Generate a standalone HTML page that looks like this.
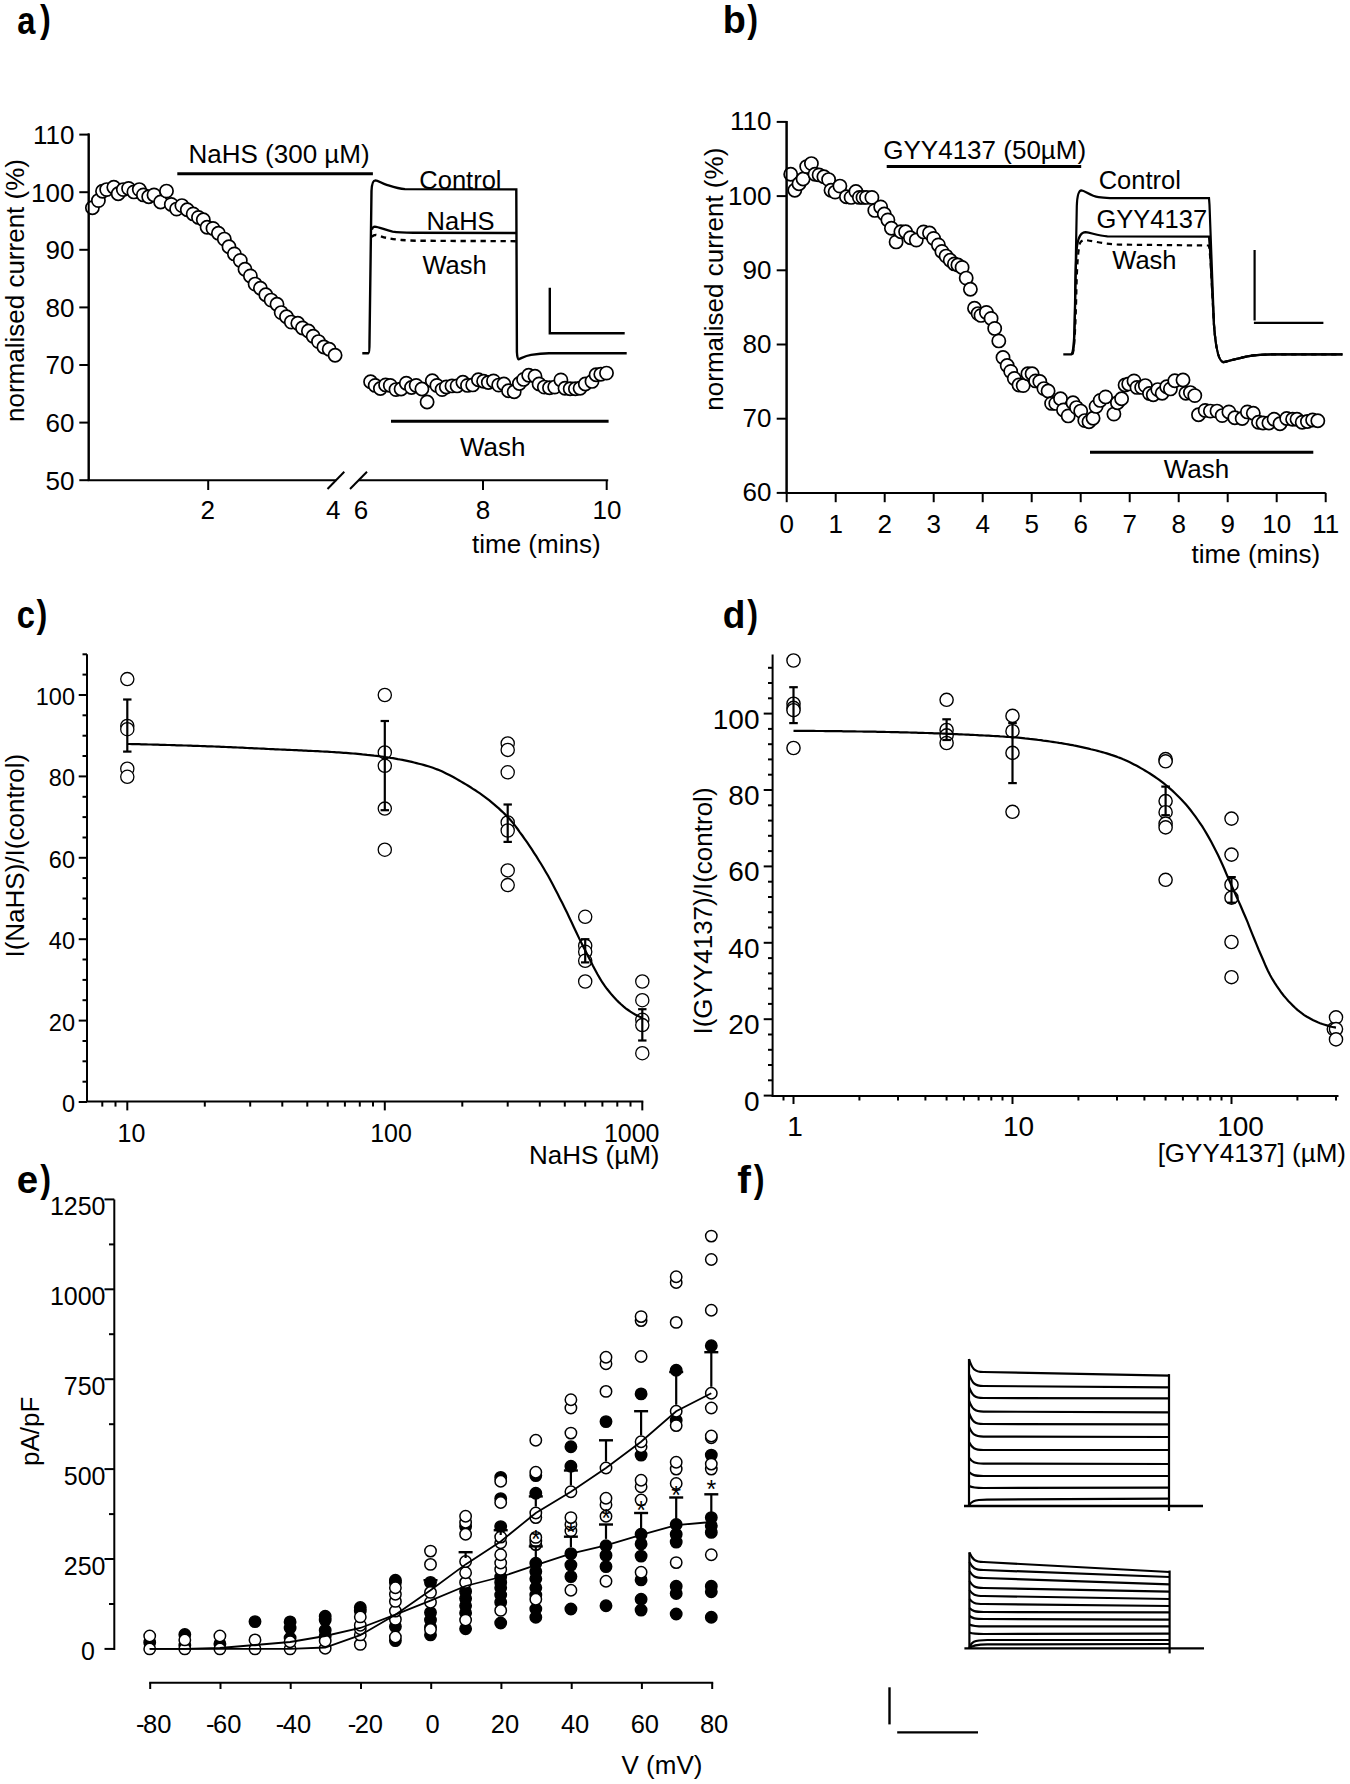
<!DOCTYPE html>
<html><head><meta charset="utf-8"><style>
html,body{margin:0;padding:0;background:#fff;}
svg{display:block;}
text{font-family:"Liberation Sans",sans-serif;fill:#000;stroke:none;}
</style></head><body>
<svg width="1350" height="1784" viewBox="0 0 1350 1784">
<rect width="1350" height="1784" fill="#fff"/>
<g stroke="#000" fill="none" stroke-linecap="butt">
<text transform="translate(17.15,33.80) scale(0.85,1)" font-size="38.5" font-weight="bold">a</text>
<text transform="translate(39.92,32.30) scale(0.83,1)" font-size="39" font-weight="bold">)</text>
<text transform="translate(722.71,33.40) scale(0.97,1)" font-size="39" font-weight="bold">b</text>
<text transform="translate(747.32,32.20) scale(0.83,1)" font-size="39" font-weight="bold">)</text>
<text transform="translate(16.81,628.10) scale(0.85,1)" font-size="38.5" font-weight="bold">c</text>
<text transform="translate(36.62,626.90) scale(0.83,1)" font-size="39" font-weight="bold">)</text>
<text transform="translate(722.84,627.80) scale(0.95,1)" font-size="39" font-weight="bold">d</text>
<text transform="translate(747.32,627.10) scale(0.83,1)" font-size="39" font-weight="bold">)</text>
<text transform="translate(16.68,1193.30) scale(1.0,1)" font-size="38.5" font-weight="bold">e</text>
<text transform="translate(40.32,1191.50) scale(0.83,1)" font-size="39" font-weight="bold">)</text>
<text transform="translate(737.35,1192.70) scale(1.05,1)" font-size="39" font-weight="bold">f</text>
<text transform="translate(753.72,1191.50) scale(0.83,1)" font-size="39" font-weight="bold">)</text>
<line x1="88.7" y1="133.6" x2="88.7" y2="481.0" stroke-width="2" />
<line x1="79.3" y1="480.2" x2="88.7" y2="480.2" stroke-width="2" />
<text x="74.5" y="489.6" font-size="26" text-anchor="end" >50</text>
<line x1="79.3" y1="422.6" x2="88.7" y2="422.6" stroke-width="2" />
<text x="74.5" y="432.0" font-size="26" text-anchor="end" >60</text>
<line x1="79.3" y1="365.0" x2="88.7" y2="365.0" stroke-width="2" />
<text x="74.5" y="374.4" font-size="26" text-anchor="end" >70</text>
<line x1="79.3" y1="307.4" x2="88.7" y2="307.4" stroke-width="2" />
<text x="74.5" y="316.8" font-size="26" text-anchor="end" >80</text>
<line x1="79.3" y1="249.8" x2="88.7" y2="249.8" stroke-width="2" />
<text x="74.5" y="259.2" font-size="26" text-anchor="end" >90</text>
<line x1="79.3" y1="192.2" x2="88.7" y2="192.2" stroke-width="2" />
<text x="74.5" y="201.6" font-size="26" text-anchor="end" >100</text>
<line x1="79.3" y1="134.6" x2="88.7" y2="134.6" stroke-width="2" />
<text x="74.5" y="144.0" font-size="26" text-anchor="end" >110</text>
<line x1="87.7" y1="480.2" x2="336.2" y2="480.2" stroke-width="2" />
<line x1="358.8" y1="480.2" x2="608.2" y2="480.2" stroke-width="2" />
<line x1="327.5" y1="489.0" x2="344.3" y2="471.7" stroke-width="2" />
<line x1="350.0" y1="489.0" x2="367.0" y2="471.7" stroke-width="2" />
<line x1="208.2" y1="480.2" x2="208.2" y2="490.0" stroke-width="2" />
<line x1="483.0" y1="480.2" x2="483.0" y2="490.0" stroke-width="2" />
<line x1="606.7" y1="480.2" x2="606.7" y2="490.0" stroke-width="2" />
<text x="207.7" y="518.6" font-size="26" text-anchor="middle" >2</text>
<text x="333.2" y="518.6" font-size="26" text-anchor="middle" >4</text>
<text x="361.0" y="518.6" font-size="26" text-anchor="middle" >6</text>
<text x="483.0" y="518.6" font-size="26" text-anchor="middle" >8</text>
<text x="607.0" y="518.6" font-size="26" text-anchor="middle" >10</text>
<text x="472.0" y="553.0" font-size="26" text-anchor="start" >time (mins)</text>
<text transform="translate(23.5,290.5) rotate(-90)" font-size="26" text-anchor="middle">normalised current (%)</text>
<line x1="177.3" y1="173.7" x2="372.9" y2="173.7" stroke-width="3" />
<text x="188.5" y="163.4" font-size="26" text-anchor="start" >NaHS (300 µM)</text>
<line x1="391.0" y1="421.2" x2="608.6" y2="421.2" stroke-width="3" />
<text x="460.0" y="455.5" font-size="26" text-anchor="start" >Wash</text>
<path d="M362.3,353.2 L368.5,353.2 C369.3,353 369.5,349 369.5,342 L371.5,191 C371.8,184 373,180.4 375.4,180.4 C378,180.5 382,183.5 386.7,184.8 C392,186.5 398,188.7 405,189.1 L516.3,189.4 L516.9,352 C517.2,357 517.6,359.3 518.5,359.3 C521,358.5 525,355.8 531.1,354.9 C537,354 543,353.4 549,353.3 L626.7,353.2" stroke-width="2.4" fill="none" />
<path d="M371.8,229.5 C372.5,227.5 373.5,226.6 374.8,226.6 C379,227 385,230 392.6,231.6 C398,232.5 405,232.7 413.3,232.7 L516.3,233" stroke-width="2.4" fill="none" />
<path d="M371.6,236.8 C373,235.5 374.5,234.9 376,234.9 C379,235.5 383,237.2 386.7,237.9 C391,238.8 396,239.6 401.5,240 C408,240.5 415,240.8 425.2,240.8 L516.3,241.2" stroke-width="2.4" fill="none" stroke-dasharray="5.3,4.7"/>
<text x="419.3" y="188.8" font-size="25.5" text-anchor="start" >Control</text>
<text x="426.6" y="229.6" font-size="25.5" text-anchor="start" >NaHS</text>
<text x="422.4" y="274.4" font-size="25.5" text-anchor="start" >Wash</text>
<path d="M549.8,287.7 L549.8,333.3 L624.7,333.3" stroke-width="2.4" fill="none" />
<circle cx="92.4" cy="207.7" r="6.6" stroke-width="1.7" fill="#fff"/>
<circle cx="98.4" cy="200.6" r="6.6" stroke-width="1.7" fill="#fff"/>
<circle cx="102.5" cy="191.3" r="6.6" stroke-width="1.7" fill="#fff"/>
<circle cx="106.7" cy="189.6" r="6.6" stroke-width="1.7" fill="#fff"/>
<circle cx="113.8" cy="187.2" r="6.6" stroke-width="1.7" fill="#fff"/>
<circle cx="118.2" cy="193.7" r="6.6" stroke-width="1.7" fill="#fff"/>
<circle cx="123.3" cy="189.6" r="6.6" stroke-width="1.7" fill="#fff"/>
<circle cx="128.6" cy="188.4" r="6.6" stroke-width="1.7" fill="#fff"/>
<circle cx="133.9" cy="191.9" r="6.6" stroke-width="1.7" fill="#fff"/>
<circle cx="139.3" cy="189.6" r="6.6" stroke-width="1.7" fill="#fff"/>
<circle cx="143.4" cy="194.9" r="6.6" stroke-width="1.7" fill="#fff"/>
<circle cx="148.7" cy="196.7" r="6.6" stroke-width="1.7" fill="#fff"/>
<circle cx="154.0" cy="194.9" r="6.6" stroke-width="1.7" fill="#fff"/>
<circle cx="160.6" cy="202.0" r="6.6" stroke-width="1.7" fill="#fff"/>
<circle cx="166.5" cy="191.1" r="6.6" stroke-width="1.7" fill="#fff"/>
<circle cx="171.3" cy="204.4" r="6.6" stroke-width="1.7" fill="#fff"/>
<circle cx="176.6" cy="209.1" r="6.6" stroke-width="1.7" fill="#fff"/>
<circle cx="181.9" cy="205.6" r="6.6" stroke-width="1.7" fill="#fff"/>
<circle cx="187.3" cy="209.7" r="6.6" stroke-width="1.7" fill="#fff"/>
<circle cx="193.2" cy="213.9" r="6.6" stroke-width="1.7" fill="#fff"/>
<circle cx="198.5" cy="217.4" r="6.6" stroke-width="1.7" fill="#fff"/>
<circle cx="203.3" cy="219.8" r="6.6" stroke-width="1.7" fill="#fff"/>
<circle cx="207.1" cy="227.3" r="6.6" stroke-width="1.7" fill="#fff"/>
<circle cx="213.0" cy="228.4" r="6.6" stroke-width="1.7" fill="#fff"/>
<circle cx="218.4" cy="233.2" r="6.6" stroke-width="1.7" fill="#fff"/>
<circle cx="224.3" cy="239.1" r="6.6" stroke-width="1.7" fill="#fff"/>
<circle cx="229.0" cy="246.8" r="6.6" stroke-width="1.7" fill="#fff"/>
<circle cx="234.4" cy="253.9" r="6.6" stroke-width="1.7" fill="#fff"/>
<circle cx="240.3" cy="260.4" r="6.6" stroke-width="1.7" fill="#fff"/>
<circle cx="245.0" cy="269.3" r="6.6" stroke-width="1.7" fill="#fff"/>
<circle cx="250.4" cy="275.9" r="6.6" stroke-width="1.7" fill="#fff"/>
<circle cx="255.1" cy="284.1" r="6.6" stroke-width="1.7" fill="#fff"/>
<circle cx="260.4" cy="288.3" r="6.6" stroke-width="1.7" fill="#fff"/>
<circle cx="265.8" cy="294.8" r="6.6" stroke-width="1.7" fill="#fff"/>
<circle cx="271.1" cy="300.1" r="6.6" stroke-width="1.7" fill="#fff"/>
<circle cx="277.0" cy="304.3" r="6.6" stroke-width="1.7" fill="#fff"/>
<circle cx="281.2" cy="312.6" r="6.6" stroke-width="1.7" fill="#fff"/>
<circle cx="286.5" cy="316.7" r="6.6" stroke-width="1.7" fill="#fff"/>
<circle cx="291.3" cy="322.1" r="6.6" stroke-width="1.7" fill="#fff"/>
<circle cx="297.8" cy="323.3" r="6.6" stroke-width="1.7" fill="#fff"/>
<circle cx="302.5" cy="328.0" r="6.6" stroke-width="1.7" fill="#fff"/>
<circle cx="308.4" cy="331.0" r="6.6" stroke-width="1.7" fill="#fff"/>
<circle cx="313.2" cy="336.3" r="6.6" stroke-width="1.7" fill="#fff"/>
<circle cx="318.5" cy="341.6" r="6.6" stroke-width="1.7" fill="#fff"/>
<circle cx="323.9" cy="347.0" r="6.6" stroke-width="1.7" fill="#fff"/>
<circle cx="329.2" cy="349.3" r="6.6" stroke-width="1.7" fill="#fff"/>
<circle cx="335.1" cy="355.3" r="6.6" stroke-width="1.7" fill="#fff"/>
<circle cx="370.6" cy="381.8" r="6.6" stroke-width="1.7" fill="#fff"/>
<circle cx="375.2" cy="385.4" r="6.6" stroke-width="1.7" fill="#fff"/>
<circle cx="380.4" cy="388.5" r="6.6" stroke-width="1.7" fill="#fff"/>
<circle cx="385.6" cy="384.9" r="6.6" stroke-width="1.7" fill="#fff"/>
<circle cx="390.3" cy="385.4" r="6.6" stroke-width="1.7" fill="#fff"/>
<circle cx="396.0" cy="389.6" r="6.6" stroke-width="1.7" fill="#fff"/>
<circle cx="401.1" cy="389.0" r="6.6" stroke-width="1.7" fill="#fff"/>
<circle cx="406.3" cy="383.3" r="6.6" stroke-width="1.7" fill="#fff"/>
<circle cx="411.5" cy="387.5" r="6.6" stroke-width="1.7" fill="#fff"/>
<circle cx="416.2" cy="385.4" r="6.6" stroke-width="1.7" fill="#fff"/>
<circle cx="421.9" cy="389.0" r="6.6" stroke-width="1.7" fill="#fff"/>
<circle cx="427.1" cy="402.0" r="6.6" stroke-width="1.7" fill="#fff"/>
<circle cx="432.3" cy="380.7" r="6.6" stroke-width="1.7" fill="#fff"/>
<circle cx="436.9" cy="385.4" r="6.6" stroke-width="1.7" fill="#fff"/>
<circle cx="442.1" cy="389.6" r="6.6" stroke-width="1.7" fill="#fff"/>
<circle cx="446.3" cy="387.0" r="6.6" stroke-width="1.7" fill="#fff"/>
<circle cx="452.0" cy="385.9" r="6.6" stroke-width="1.7" fill="#fff"/>
<circle cx="457.1" cy="385.9" r="6.6" stroke-width="1.7" fill="#fff"/>
<circle cx="462.9" cy="382.3" r="6.6" stroke-width="1.7" fill="#fff"/>
<circle cx="467.5" cy="385.4" r="6.6" stroke-width="1.7" fill="#fff"/>
<circle cx="472.7" cy="384.9" r="6.6" stroke-width="1.7" fill="#fff"/>
<circle cx="478.4" cy="379.7" r="6.6" stroke-width="1.7" fill="#fff"/>
<circle cx="483.6" cy="381.3" r="6.6" stroke-width="1.7" fill="#fff"/>
<circle cx="488.3" cy="382.5" r="6.6" stroke-width="1.7" fill="#fff"/>
<circle cx="493.5" cy="380.9" r="6.6" stroke-width="1.7" fill="#fff"/>
<circle cx="498.7" cy="385.1" r="6.6" stroke-width="1.7" fill="#fff"/>
<circle cx="503.9" cy="384.0" r="6.6" stroke-width="1.7" fill="#fff"/>
<circle cx="508.5" cy="390.8" r="6.6" stroke-width="1.7" fill="#fff"/>
<circle cx="514.2" cy="391.8" r="6.6" stroke-width="1.7" fill="#fff"/>
<circle cx="519.4" cy="383.5" r="6.6" stroke-width="1.7" fill="#fff"/>
<circle cx="523.6" cy="379.4" r="6.6" stroke-width="1.7" fill="#fff"/>
<circle cx="528.7" cy="375.2" r="6.6" stroke-width="1.7" fill="#fff"/>
<circle cx="535.0" cy="376.3" r="6.6" stroke-width="1.7" fill="#fff"/>
<circle cx="539.1" cy="384.0" r="6.6" stroke-width="1.7" fill="#fff"/>
<circle cx="544.3" cy="387.1" r="6.6" stroke-width="1.7" fill="#fff"/>
<circle cx="549.5" cy="387.7" r="6.6" stroke-width="1.7" fill="#fff"/>
<circle cx="554.7" cy="387.1" r="6.6" stroke-width="1.7" fill="#fff"/>
<circle cx="560.9" cy="379.9" r="6.6" stroke-width="1.7" fill="#fff"/>
<circle cx="565.0" cy="388.2" r="6.6" stroke-width="1.7" fill="#fff"/>
<circle cx="570.2" cy="388.7" r="6.6" stroke-width="1.7" fill="#fff"/>
<circle cx="575.4" cy="388.7" r="6.6" stroke-width="1.7" fill="#fff"/>
<circle cx="580.1" cy="388.2" r="6.6" stroke-width="1.7" fill="#fff"/>
<circle cx="585.3" cy="384.0" r="6.6" stroke-width="1.7" fill="#fff"/>
<circle cx="592.0" cy="381.4" r="6.6" stroke-width="1.7" fill="#fff"/>
<circle cx="596.1" cy="374.7" r="6.6" stroke-width="1.7" fill="#fff"/>
<circle cx="600.8" cy="374.2" r="6.6" stroke-width="1.7" fill="#fff"/>
<circle cx="606.5" cy="373.1" r="6.6" stroke-width="1.7" fill="#fff"/>
<line x1="88.7" y1="133.6" x2="88.7" y2="481.0" stroke-width="2" />
<line x1="786.6" y1="120.9" x2="786.6" y2="493.9" stroke-width="2" />
<line x1="776.7" y1="492.9" x2="786.6" y2="492.9" stroke-width="2" />
<text x="771.5" y="501.4" font-size="26" text-anchor="end" >60</text>
<line x1="776.7" y1="418.7" x2="786.6" y2="418.7" stroke-width="2" />
<text x="771.5" y="427.2" font-size="26" text-anchor="end" >70</text>
<line x1="776.7" y1="344.5" x2="786.6" y2="344.5" stroke-width="2" />
<text x="771.5" y="353.0" font-size="26" text-anchor="end" >80</text>
<line x1="776.7" y1="270.3" x2="786.6" y2="270.3" stroke-width="2" />
<text x="771.5" y="278.8" font-size="26" text-anchor="end" >90</text>
<line x1="776.7" y1="196.1" x2="786.6" y2="196.1" stroke-width="2" />
<text x="771.5" y="204.6" font-size="26" text-anchor="end" >100</text>
<line x1="776.7" y1="121.9" x2="786.6" y2="121.9" stroke-width="2" />
<text x="771.5" y="130.4" font-size="26" text-anchor="end" >110</text>
<line x1="785.6" y1="492.9" x2="1325.7" y2="492.9" stroke-width="2" />
<line x1="786.7" y1="492.9" x2="786.7" y2="502.2" stroke-width="2" />
<text x="786.7" y="532.7" font-size="26" text-anchor="middle" >0</text>
<line x1="835.7" y1="492.9" x2="835.7" y2="502.2" stroke-width="2" />
<text x="835.7" y="532.7" font-size="26" text-anchor="middle" >1</text>
<line x1="884.7" y1="492.9" x2="884.7" y2="502.2" stroke-width="2" />
<text x="884.7" y="532.7" font-size="26" text-anchor="middle" >2</text>
<line x1="933.7" y1="492.9" x2="933.7" y2="502.2" stroke-width="2" />
<text x="933.7" y="532.7" font-size="26" text-anchor="middle" >3</text>
<line x1="982.7" y1="492.9" x2="982.7" y2="502.2" stroke-width="2" />
<text x="982.7" y="532.7" font-size="26" text-anchor="middle" >4</text>
<line x1="1031.7" y1="492.9" x2="1031.7" y2="502.2" stroke-width="2" />
<text x="1031.7" y="532.7" font-size="26" text-anchor="middle" >5</text>
<line x1="1080.7" y1="492.9" x2="1080.7" y2="502.2" stroke-width="2" />
<text x="1080.7" y="532.7" font-size="26" text-anchor="middle" >6</text>
<line x1="1129.7" y1="492.9" x2="1129.7" y2="502.2" stroke-width="2" />
<text x="1129.7" y="532.7" font-size="26" text-anchor="middle" >7</text>
<line x1="1178.7" y1="492.9" x2="1178.7" y2="502.2" stroke-width="2" />
<text x="1178.7" y="532.7" font-size="26" text-anchor="middle" >8</text>
<line x1="1227.7" y1="492.9" x2="1227.7" y2="502.2" stroke-width="2" />
<text x="1227.7" y="532.7" font-size="26" text-anchor="middle" >9</text>
<line x1="1276.7" y1="492.9" x2="1276.7" y2="502.2" stroke-width="2" />
<text x="1276.7" y="532.7" font-size="26" text-anchor="middle" >10</text>
<line x1="1325.7" y1="492.9" x2="1325.7" y2="502.2" stroke-width="2" />
<text x="1325.7" y="532.7" font-size="26" text-anchor="middle" >11</text>
<text x="1191.6" y="563.3" font-size="26" text-anchor="start" >time (mins)</text>
<text transform="translate(722.7,279.2) rotate(-90)" font-size="26" text-anchor="middle">normalised current (%)</text>
<line x1="886.7" y1="166.6" x2="1081.2" y2="166.6" stroke-width="3" />
<text x="883.3" y="159.0" font-size="26" text-anchor="start" >GYY4137 (50µM)</text>
<line x1="1090.0" y1="452.2" x2="1313.3" y2="452.2" stroke-width="3" />
<text x="1163.8" y="478.4" font-size="26" text-anchor="start" >Wash</text>
<path d="M1063.3,354.3 L1071.4,354.3 C1073.5,354 1074.2,346 1074.5,330 L1076.8,206 C1077.2,195 1078.5,190.5 1081.3,190.4 C1085,190.5 1090,195.8 1098.5,197.2 C1102,197.8 1106,198 1110,198.1 L1209,198.2 L1209.5,205 L1214,325 C1215.5,345 1218,362 1223.6,362.2 C1232,360.5 1244,355.6 1260,354.8 C1266,354.5 1272,354.4 1280,354.3 L1342.4,354.3" stroke-width="2.2" fill="none" />
<path d="M1071.4,354.3 C1074,352 1074.8,330 1075.2,300 C1075.6,270 1076.4,250 1077.2,245.2 C1078.5,236 1081,232.2 1085.5,232.1 C1092,233 1098,235.8 1107.4,236.3 L1209,236.6 L1210,250 L1214,325 C1215.5,345 1218,362 1223.6,362.2 C1232,360.5 1244,355.6 1260,354.8 C1266,354.5 1272,354.4 1280,354.3 L1342.4,354.3" stroke-width="2.2" fill="none" />
<path d="M1072.5,354.3 C1074.5,350 1075.8,320 1076.4,290 C1077,265 1078,250 1080.1,242.8 C1081.5,240.6 1083.5,239.9 1084.9,239.9 C1095,241.3 1105,244.2 1119,244.6 L1209,245.5 L1210.5,260 L1214,325 C1215.5,345 1218,362 1223.6,362.2 C1232,360.5 1244,355.6 1260,354.8 C1266,354.5 1272,354.4 1280,354.3 L1342.4,354.3" stroke-width="2.2" fill="none" stroke-dasharray="5.3,4.7"/>
<text x="1098.7" y="189.3" font-size="25.5" text-anchor="start" >Control</text>
<text x="1096.5" y="227.6" font-size="25.5" text-anchor="start" >GYY4137</text>
<text x="1112.3" y="269.1" font-size="25.5" text-anchor="start" >Wash</text>
<path d="M1254.6,250 L1254.6,320.5 M1253.9,322.9 L1323.4,322.9" stroke-width="2.2" fill="none" />
<circle cx="790.7" cy="174.3" r="6.6" stroke-width="1.7" fill="#fff"/>
<circle cx="794.8" cy="190.3" r="6.6" stroke-width="1.7" fill="#fff"/>
<circle cx="799.0" cy="183.8" r="6.6" stroke-width="1.7" fill="#fff"/>
<circle cx="803.1" cy="179.0" r="6.6" stroke-width="1.7" fill="#fff"/>
<circle cx="806.7" cy="166.6" r="6.6" stroke-width="1.7" fill="#fff"/>
<circle cx="811.4" cy="163.6" r="6.6" stroke-width="1.7" fill="#fff"/>
<circle cx="815.0" cy="174.3" r="6.6" stroke-width="1.7" fill="#fff"/>
<circle cx="819.1" cy="174.9" r="6.6" stroke-width="1.7" fill="#fff"/>
<circle cx="823.9" cy="176.7" r="6.6" stroke-width="1.7" fill="#fff"/>
<circle cx="828.6" cy="179.6" r="6.6" stroke-width="1.7" fill="#fff"/>
<circle cx="831.0" cy="190.3" r="6.6" stroke-width="1.7" fill="#fff"/>
<circle cx="835.1" cy="192.1" r="6.6" stroke-width="1.7" fill="#fff"/>
<circle cx="839.9" cy="186.1" r="6.6" stroke-width="1.7" fill="#fff"/>
<circle cx="846.4" cy="196.8" r="6.6" stroke-width="1.7" fill="#fff"/>
<circle cx="851.1" cy="197.4" r="6.6" stroke-width="1.7" fill="#fff"/>
<circle cx="855.9" cy="191.5" r="6.6" stroke-width="1.7" fill="#fff"/>
<circle cx="859.4" cy="197.4" r="6.6" stroke-width="1.7" fill="#fff"/>
<circle cx="863.0" cy="197.4" r="6.6" stroke-width="1.7" fill="#fff"/>
<circle cx="866.5" cy="197.4" r="6.6" stroke-width="1.7" fill="#fff"/>
<circle cx="871.9" cy="197.4" r="6.6" stroke-width="1.7" fill="#fff"/>
<circle cx="874.8" cy="210.4" r="6.6" stroke-width="1.7" fill="#fff"/>
<circle cx="880.7" cy="206.9" r="6.6" stroke-width="1.7" fill="#fff"/>
<circle cx="884.3" cy="214.0" r="6.6" stroke-width="1.7" fill="#fff"/>
<circle cx="887.9" cy="219.9" r="6.6" stroke-width="1.7" fill="#fff"/>
<circle cx="891.4" cy="228.2" r="6.6" stroke-width="1.7" fill="#fff"/>
<circle cx="896.1" cy="241.9" r="6.6" stroke-width="1.7" fill="#fff"/>
<circle cx="900.9" cy="231.8" r="6.6" stroke-width="1.7" fill="#fff"/>
<circle cx="905.6" cy="231.8" r="6.6" stroke-width="1.7" fill="#fff"/>
<circle cx="910.4" cy="237.7" r="6.6" stroke-width="1.7" fill="#fff"/>
<circle cx="916.3" cy="240.1" r="6.6" stroke-width="1.7" fill="#fff"/>
<circle cx="923.6" cy="231.9" r="6.6" stroke-width="1.7" fill="#fff"/>
<circle cx="929.5" cy="233.0" r="6.6" stroke-width="1.7" fill="#fff"/>
<circle cx="933.6" cy="238.4" r="6.6" stroke-width="1.7" fill="#fff"/>
<circle cx="938.4" cy="244.9" r="6.6" stroke-width="1.7" fill="#fff"/>
<circle cx="941.9" cy="251.4" r="6.6" stroke-width="1.7" fill="#fff"/>
<circle cx="946.1" cy="256.1" r="6.6" stroke-width="1.7" fill="#fff"/>
<circle cx="950.2" cy="260.3" r="6.6" stroke-width="1.7" fill="#fff"/>
<circle cx="954.4" cy="263.9" r="6.6" stroke-width="1.7" fill="#fff"/>
<circle cx="957.9" cy="265.0" r="6.6" stroke-width="1.7" fill="#fff"/>
<circle cx="962.1" cy="267.4" r="6.6" stroke-width="1.7" fill="#fff"/>
<circle cx="966.2" cy="278.1" r="6.6" stroke-width="1.7" fill="#fff"/>
<circle cx="970.4" cy="289.3" r="6.6" stroke-width="1.7" fill="#fff"/>
<circle cx="974.5" cy="308.3" r="6.6" stroke-width="1.7" fill="#fff"/>
<circle cx="978.1" cy="313.6" r="6.6" stroke-width="1.7" fill="#fff"/>
<circle cx="981.0" cy="315.4" r="6.6" stroke-width="1.7" fill="#fff"/>
<circle cx="986.4" cy="312.4" r="6.6" stroke-width="1.7" fill="#fff"/>
<circle cx="991.1" cy="318.4" r="6.6" stroke-width="1.7" fill="#fff"/>
<circle cx="994.7" cy="328.4" r="6.6" stroke-width="1.7" fill="#fff"/>
<circle cx="998.8" cy="340.9" r="6.6" stroke-width="1.7" fill="#fff"/>
<circle cx="1003.0" cy="357.5" r="6.6" stroke-width="1.7" fill="#fff"/>
<circle cx="1007.2" cy="365.5" r="6.6" stroke-width="1.7" fill="#fff"/>
<circle cx="1010.7" cy="371.4" r="6.6" stroke-width="1.7" fill="#fff"/>
<circle cx="1014.3" cy="378.5" r="6.6" stroke-width="1.7" fill="#fff"/>
<circle cx="1019.0" cy="385.0" r="6.6" stroke-width="1.7" fill="#fff"/>
<circle cx="1023.2" cy="385.6" r="6.6" stroke-width="1.7" fill="#fff"/>
<circle cx="1027.9" cy="373.8" r="6.6" stroke-width="1.7" fill="#fff"/>
<circle cx="1032.1" cy="373.8" r="6.6" stroke-width="1.7" fill="#fff"/>
<circle cx="1035.6" cy="380.9" r="6.6" stroke-width="1.7" fill="#fff"/>
<circle cx="1039.8" cy="381.5" r="6.6" stroke-width="1.7" fill="#fff"/>
<circle cx="1043.9" cy="388.6" r="6.6" stroke-width="1.7" fill="#fff"/>
<circle cx="1048.1" cy="391.0" r="6.6" stroke-width="1.7" fill="#fff"/>
<circle cx="1051.6" cy="403.4" r="6.6" stroke-width="1.7" fill="#fff"/>
<circle cx="1055.8" cy="403.4" r="6.6" stroke-width="1.7" fill="#fff"/>
<circle cx="1060.5" cy="398.7" r="6.6" stroke-width="1.7" fill="#fff"/>
<circle cx="1063.5" cy="409.9" r="6.6" stroke-width="1.7" fill="#fff"/>
<circle cx="1068.2" cy="415.9" r="6.6" stroke-width="1.7" fill="#fff"/>
<circle cx="1073.0" cy="402.8" r="6.6" stroke-width="1.7" fill="#fff"/>
<circle cx="1076.5" cy="407.6" r="6.6" stroke-width="1.7" fill="#fff"/>
<circle cx="1080.7" cy="411.1" r="6.6" stroke-width="1.7" fill="#fff"/>
<circle cx="1084.8" cy="420.6" r="6.6" stroke-width="1.7" fill="#fff"/>
<circle cx="1089.0" cy="421.8" r="6.6" stroke-width="1.7" fill="#fff"/>
<circle cx="1093.1" cy="418.2" r="6.6" stroke-width="1.7" fill="#fff"/>
<circle cx="1096.1" cy="406.4" r="6.6" stroke-width="1.7" fill="#fff"/>
<circle cx="1100.2" cy="400.4" r="6.6" stroke-width="1.7" fill="#fff"/>
<circle cx="1105.6" cy="396.9" r="6.6" stroke-width="1.7" fill="#fff"/>
<circle cx="1113.9" cy="414.1" r="6.6" stroke-width="1.7" fill="#fff"/>
<circle cx="1117.4" cy="402.8" r="6.6" stroke-width="1.7" fill="#fff"/>
<circle cx="1121.6" cy="398.7" r="6.6" stroke-width="1.7" fill="#fff"/>
<circle cx="1125.1" cy="385.0" r="6.6" stroke-width="1.7" fill="#fff"/>
<circle cx="1128.7" cy="383.9" r="6.6" stroke-width="1.7" fill="#fff"/>
<circle cx="1134.0" cy="380.9" r="6.6" stroke-width="1.7" fill="#fff"/>
<circle cx="1137.0" cy="387.4" r="6.6" stroke-width="1.7" fill="#fff"/>
<circle cx="1141.7" cy="387.4" r="6.6" stroke-width="1.7" fill="#fff"/>
<circle cx="1145.3" cy="385.6" r="6.6" stroke-width="1.7" fill="#fff"/>
<circle cx="1149.5" cy="393.5" r="6.6" stroke-width="1.7" fill="#fff"/>
<circle cx="1153.3" cy="394.8" r="6.6" stroke-width="1.7" fill="#fff"/>
<circle cx="1157.8" cy="389.6" r="6.6" stroke-width="1.7" fill="#fff"/>
<circle cx="1162.2" cy="393.3" r="6.6" stroke-width="1.7" fill="#fff"/>
<circle cx="1166.7" cy="386.7" r="6.6" stroke-width="1.7" fill="#fff"/>
<circle cx="1170.4" cy="388.9" r="6.6" stroke-width="1.7" fill="#fff"/>
<circle cx="1174.8" cy="380.7" r="6.6" stroke-width="1.7" fill="#fff"/>
<circle cx="1183.0" cy="380.0" r="6.6" stroke-width="1.7" fill="#fff"/>
<circle cx="1185.9" cy="393.3" r="6.6" stroke-width="1.7" fill="#fff"/>
<circle cx="1190.4" cy="392.6" r="6.6" stroke-width="1.7" fill="#fff"/>
<circle cx="1194.8" cy="395.6" r="6.6" stroke-width="1.7" fill="#fff"/>
<circle cx="1198.5" cy="414.8" r="6.6" stroke-width="1.7" fill="#fff"/>
<circle cx="1205.2" cy="410.4" r="6.6" stroke-width="1.7" fill="#fff"/>
<circle cx="1210.4" cy="411.1" r="6.6" stroke-width="1.7" fill="#fff"/>
<circle cx="1217.0" cy="411.1" r="6.6" stroke-width="1.7" fill="#fff"/>
<circle cx="1222.2" cy="415.6" r="6.6" stroke-width="1.7" fill="#fff"/>
<circle cx="1228.9" cy="411.9" r="6.6" stroke-width="1.7" fill="#fff"/>
<circle cx="1234.8" cy="417.8" r="6.6" stroke-width="1.7" fill="#fff"/>
<circle cx="1242.2" cy="418.5" r="6.6" stroke-width="1.7" fill="#fff"/>
<circle cx="1247.4" cy="411.9" r="6.6" stroke-width="1.7" fill="#fff"/>
<circle cx="1253.3" cy="413.3" r="6.6" stroke-width="1.7" fill="#fff"/>
<circle cx="1258.5" cy="422.2" r="6.6" stroke-width="1.7" fill="#fff"/>
<circle cx="1263.0" cy="423.0" r="6.6" stroke-width="1.7" fill="#fff"/>
<circle cx="1268.9" cy="423.0" r="6.6" stroke-width="1.7" fill="#fff"/>
<circle cx="1274.1" cy="419.3" r="6.6" stroke-width="1.7" fill="#fff"/>
<circle cx="1280.0" cy="423.7" r="6.6" stroke-width="1.7" fill="#fff"/>
<circle cx="1286.7" cy="418.5" r="6.6" stroke-width="1.7" fill="#fff"/>
<circle cx="1292.6" cy="419.3" r="6.6" stroke-width="1.7" fill="#fff"/>
<circle cx="1297.0" cy="419.3" r="6.6" stroke-width="1.7" fill="#fff"/>
<circle cx="1302.2" cy="422.2" r="6.6" stroke-width="1.7" fill="#fff"/>
<circle cx="1307.4" cy="421.5" r="6.6" stroke-width="1.7" fill="#fff"/>
<circle cx="1312.6" cy="420.0" r="6.6" stroke-width="1.7" fill="#fff"/>
<circle cx="1317.8" cy="420.7" r="6.6" stroke-width="1.7" fill="#fff"/>
<line x1="786.6" y1="120.9" x2="786.6" y2="493.9" stroke-width="2" />
<line x1="87.0" y1="654.3" x2="87.0" y2="1102.0" stroke-width="2" />
<line x1="78.7" y1="1102.0" x2="87.0" y2="1102.0" stroke-width="2" />
<line x1="82.5" y1="1081.7" x2="87.0" y2="1081.7" stroke-width="2" />
<line x1="82.5" y1="1061.3" x2="87.0" y2="1061.3" stroke-width="2" />
<line x1="82.5" y1="1041.0" x2="87.0" y2="1041.0" stroke-width="2" />
<line x1="78.7" y1="1020.6" x2="87.0" y2="1020.6" stroke-width="2" />
<line x1="82.5" y1="1000.2" x2="87.0" y2="1000.2" stroke-width="2" />
<line x1="82.5" y1="979.9" x2="87.0" y2="979.9" stroke-width="2" />
<line x1="82.5" y1="959.5" x2="87.0" y2="959.5" stroke-width="2" />
<line x1="78.7" y1="939.2" x2="87.0" y2="939.2" stroke-width="2" />
<line x1="82.5" y1="918.9" x2="87.0" y2="918.9" stroke-width="2" />
<line x1="82.5" y1="898.5" x2="87.0" y2="898.5" stroke-width="2" />
<line x1="82.5" y1="878.1" x2="87.0" y2="878.1" stroke-width="2" />
<line x1="78.7" y1="857.8" x2="87.0" y2="857.8" stroke-width="2" />
<line x1="82.5" y1="837.5" x2="87.0" y2="837.5" stroke-width="2" />
<line x1="82.5" y1="817.1" x2="87.0" y2="817.1" stroke-width="2" />
<line x1="82.5" y1="796.8" x2="87.0" y2="796.8" stroke-width="2" />
<line x1="78.7" y1="776.4" x2="87.0" y2="776.4" stroke-width="2" />
<line x1="82.5" y1="756.0" x2="87.0" y2="756.0" stroke-width="2" />
<line x1="82.5" y1="735.7" x2="87.0" y2="735.7" stroke-width="2" />
<line x1="82.5" y1="715.3" x2="87.0" y2="715.3" stroke-width="2" />
<line x1="78.7" y1="695.0" x2="87.0" y2="695.0" stroke-width="2" />
<line x1="82.5" y1="674.6" x2="87.0" y2="674.6" stroke-width="2" />
<line x1="82.5" y1="654.3" x2="87.0" y2="654.3" stroke-width="2" />
<text x="75.0" y="1112.0" font-size="23.5" text-anchor="end" >0</text>
<text x="75.0" y="1030.6" font-size="23.5" text-anchor="end" >20</text>
<text x="75.0" y="949.2" font-size="23.5" text-anchor="end" >40</text>
<text x="75.0" y="867.8" font-size="23.5" text-anchor="end" >60</text>
<text x="75.0" y="786.4" font-size="23.5" text-anchor="end" >80</text>
<text x="75.0" y="705.0" font-size="23.5" text-anchor="end" >100</text>
<line x1="86.0" y1="1101.5" x2="643.3" y2="1101.5" stroke-width="2" />
<line x1="102.3" y1="1101.5" x2="102.3" y2="1106.6" stroke-width="2" />
<line x1="115.5" y1="1101.5" x2="115.5" y2="1106.6" stroke-width="2" />
<line x1="204.8" y1="1101.5" x2="204.8" y2="1106.6" stroke-width="2" />
<line x1="250.2" y1="1101.5" x2="250.2" y2="1106.6" stroke-width="2" />
<line x1="282.3" y1="1101.5" x2="282.3" y2="1106.6" stroke-width="2" />
<line x1="307.3" y1="1101.5" x2="307.3" y2="1106.6" stroke-width="2" />
<line x1="327.7" y1="1101.5" x2="327.7" y2="1106.6" stroke-width="2" />
<line x1="344.9" y1="1101.5" x2="344.9" y2="1106.6" stroke-width="2" />
<line x1="359.8" y1="1101.5" x2="359.8" y2="1106.6" stroke-width="2" />
<line x1="373.0" y1="1101.5" x2="373.0" y2="1106.6" stroke-width="2" />
<line x1="462.3" y1="1101.5" x2="462.3" y2="1106.6" stroke-width="2" />
<line x1="507.7" y1="1101.5" x2="507.7" y2="1106.6" stroke-width="2" />
<line x1="539.8" y1="1101.5" x2="539.8" y2="1106.6" stroke-width="2" />
<line x1="564.8" y1="1101.5" x2="564.8" y2="1106.6" stroke-width="2" />
<line x1="585.2" y1="1101.5" x2="585.2" y2="1106.6" stroke-width="2" />
<line x1="602.4" y1="1101.5" x2="602.4" y2="1106.6" stroke-width="2" />
<line x1="617.3" y1="1101.5" x2="617.3" y2="1106.6" stroke-width="2" />
<line x1="630.5" y1="1101.5" x2="630.5" y2="1106.6" stroke-width="2" />
<line x1="127.3" y1="1101.5" x2="127.3" y2="1110.4" stroke-width="2" />
<line x1="384.8" y1="1101.5" x2="384.8" y2="1110.4" stroke-width="2" />
<line x1="642.3" y1="1101.5" x2="642.3" y2="1110.4" stroke-width="2" />
<text x="131.4" y="1141.5" font-size="25" text-anchor="middle" >10</text>
<text x="391.0" y="1141.5" font-size="25" text-anchor="middle" >100</text>
<text x="659.5" y="1141.5" font-size="25" text-anchor="end" >1000</text>
<text x="659.5" y="1164.0" font-size="26" text-anchor="end" >NaHS (µM)</text>
<text transform="translate(24,855.7) rotate(-90)" font-size="26" text-anchor="middle">I(NaHS)/I(control)</text>
<circle cx="127.3" cy="679.1" r="6.6" stroke-width="1.3" fill="#fff"/>
<circle cx="127.3" cy="725.9" r="6.6" stroke-width="1.3" fill="#fff"/>
<circle cx="127.3" cy="729.2" r="6.6" stroke-width="1.3" fill="#fff"/>
<circle cx="127.3" cy="768.7" r="6.6" stroke-width="1.3" fill="#fff"/>
<circle cx="127.3" cy="776.8" r="6.6" stroke-width="1.3" fill="#fff"/>
<circle cx="384.8" cy="695.0" r="6.6" stroke-width="1.3" fill="#fff"/>
<circle cx="384.8" cy="752.4" r="6.6" stroke-width="1.3" fill="#fff"/>
<circle cx="384.8" cy="765.8" r="6.6" stroke-width="1.3" fill="#fff"/>
<circle cx="384.8" cy="808.6" r="6.6" stroke-width="1.3" fill="#fff"/>
<circle cx="384.8" cy="849.7" r="6.6" stroke-width="1.3" fill="#fff"/>
<circle cx="507.7" cy="743.4" r="6.6" stroke-width="1.3" fill="#fff"/>
<circle cx="507.7" cy="749.9" r="6.6" stroke-width="1.3" fill="#fff"/>
<circle cx="507.7" cy="772.3" r="6.6" stroke-width="1.3" fill="#fff"/>
<circle cx="507.7" cy="822.4" r="6.6" stroke-width="1.3" fill="#fff"/>
<circle cx="507.7" cy="830.5" r="6.6" stroke-width="1.3" fill="#fff"/>
<circle cx="507.7" cy="870.4" r="6.6" stroke-width="1.3" fill="#fff"/>
<circle cx="507.7" cy="885.1" r="6.6" stroke-width="1.3" fill="#fff"/>
<circle cx="585.2" cy="916.8" r="6.6" stroke-width="1.3" fill="#fff"/>
<circle cx="585.2" cy="945.7" r="6.6" stroke-width="1.3" fill="#fff"/>
<circle cx="585.2" cy="951.8" r="6.6" stroke-width="1.3" fill="#fff"/>
<circle cx="585.2" cy="960.8" r="6.6" stroke-width="1.3" fill="#fff"/>
<circle cx="585.2" cy="981.5" r="6.6" stroke-width="1.3" fill="#fff"/>
<circle cx="642.3" cy="981.5" r="6.6" stroke-width="1.3" fill="#fff"/>
<circle cx="642.3" cy="1000.2" r="6.6" stroke-width="1.3" fill="#fff"/>
<circle cx="642.3" cy="1019.8" r="6.6" stroke-width="1.3" fill="#fff"/>
<circle cx="642.3" cy="1025.1" r="6.6" stroke-width="1.3" fill="#fff"/>
<circle cx="642.3" cy="1053.2" r="6.6" stroke-width="1.3" fill="#fff"/>
<line x1="127.3" y1="751.6" x2="127.3" y2="699.5" stroke-width="2.2" />
<line x1="123.1" y1="751.6" x2="131.5" y2="751.6" stroke-width="2.2" />
<line x1="123.1" y1="699.5" x2="131.5" y2="699.5" stroke-width="2.2" />
<line x1="384.8" y1="810.2" x2="384.8" y2="721.0" stroke-width="2.2" />
<line x1="380.6" y1="810.2" x2="389.0" y2="810.2" stroke-width="2.2" />
<line x1="380.6" y1="721.0" x2="389.0" y2="721.0" stroke-width="2.2" />
<line x1="507.7" y1="841.9" x2="507.7" y2="804.5" stroke-width="2.2" />
<line x1="503.5" y1="841.9" x2="511.9" y2="841.9" stroke-width="2.2" />
<line x1="503.5" y1="804.5" x2="511.9" y2="804.5" stroke-width="2.2" />
<line x1="585.2" y1="962.4" x2="585.2" y2="939.2" stroke-width="2.2" />
<line x1="581.0" y1="962.4" x2="589.4" y2="962.4" stroke-width="2.2" />
<line x1="581.0" y1="939.2" x2="589.4" y2="939.2" stroke-width="2.2" />
<line x1="642.3" y1="1040.5" x2="642.3" y2="1009.2" stroke-width="2.2" />
<line x1="638.1" y1="1040.5" x2="646.5" y2="1040.5" stroke-width="2.2" />
<line x1="638.1" y1="1009.2" x2="646.5" y2="1009.2" stroke-width="2.2" />
<path d="M127.3,744.0 L129.7,744.0 L132.0,744.1 L134.4,744.1 L136.7,744.2 L139.1,744.2 L141.4,744.3 L143.8,744.4 L146.1,744.4 L148.5,744.5 L150.8,744.5 L153.2,744.6 L155.5,744.7 L157.9,744.7 L160.2,744.8 L162.6,744.8 L164.9,744.9 L167.3,745.0 L169.6,745.0 L172.0,745.1 L174.3,745.2 L176.7,745.3 L179.0,745.3 L181.4,745.4 L183.7,745.5 L186.1,745.5 L188.4,745.6 L190.8,745.7 L193.1,745.8 L195.5,745.8 L197.8,745.9 L200.2,746.0 L202.5,746.1 L204.9,746.2 L207.2,746.3 L209.6,746.3 L211.9,746.4 L214.3,746.5 L216.6,746.6 L219.0,746.7 L221.3,746.8 L223.7,746.9 L226.0,747.0 L228.4,747.1 L230.8,747.2 L233.1,747.3 L235.5,747.4 L237.8,747.5 L240.2,747.6 L242.5,747.7 L244.9,747.8 L247.2,748.0 L249.6,748.1 L251.9,748.2 L254.3,748.3 L256.6,748.4 L259.0,748.5 L261.3,748.6 L263.7,748.7 L266.0,748.8 L268.4,749.0 L270.7,749.1 L273.1,749.2 L275.4,749.3 L277.8,749.4 L280.1,749.5 L282.5,749.6 L284.8,749.7 L287.2,749.8 L289.5,749.9 L291.9,750.0 L294.2,750.1 L296.6,750.2 L298.9,750.3 L301.3,750.4 L303.6,750.6 L306.0,750.7 L308.3,750.8 L310.7,750.9 L313.0,751.0 L315.4,751.1 L317.7,751.2 L320.1,751.3 L322.4,751.5 L324.8,751.6 L327.1,751.7 L329.5,751.8 L331.8,752.0 L334.2,752.1 L336.6,752.3 L338.9,752.4 L341.3,752.6 L343.6,752.8 L346.0,752.9 L348.3,753.1 L350.7,753.3 L353.0,753.5 L355.4,753.7 L357.7,753.9 L360.1,754.1 L362.4,754.4 L364.8,754.6 L367.1,754.9 L369.5,755.1 L371.8,755.4 L374.2,755.7 L376.5,755.9 L378.9,756.2 L381.2,756.5 L383.6,756.8 L385.9,757.2 L388.3,757.5 L390.6,757.9 L393.0,758.2 L395.3,758.6 L397.7,759.1 L400.0,759.5 L402.4,759.9 L404.7,760.4 L407.1,760.9 L409.4,761.4 L411.8,761.9 L414.1,762.5 L416.5,763.1 L418.8,763.7 L421.2,764.3 L423.5,764.9 L425.9,765.6 L428.2,766.3 L430.6,767.0 L432.9,767.8 L435.3,768.7 L437.7,769.6 L440.0,770.6 L442.4,771.6 L444.7,772.7 L447.1,773.9 L449.4,775.0 L451.8,776.3 L454.1,777.5 L456.5,778.9 L458.8,780.2 L461.2,781.6 L463.5,783.0 L465.9,784.4 L468.2,785.8 L470.6,787.3 L472.9,788.8 L475.3,790.3 L477.6,791.8 L480.0,793.4 L482.3,795.1 L484.7,796.8 L487.0,798.6 L489.4,800.4 L491.7,802.3 L494.1,804.3 L496.4,806.3 L498.8,808.4 L501.1,810.6 L503.5,812.8 L505.8,815.1 L508.2,817.5 L510.5,820.1 L512.9,822.9 L515.2,825.9 L517.6,829.0 L519.9,832.3 L522.3,835.5 L524.6,838.8 L527.0,842.2 L529.3,845.6 L531.7,849.2 L534.0,852.8 L536.4,856.4 L538.7,860.2 L541.1,864.0 L543.5,868.0 L545.8,872.0 L548.2,876.0 L550.5,880.3 L552.9,884.7 L555.2,889.2 L557.6,893.8 L559.9,898.4 L562.3,903.0 L564.6,907.7 L567.0,912.6 L569.3,917.5 L571.7,922.5 L574.0,927.5 L576.4,932.5 L578.7,937.4 L581.1,942.3 L583.4,947.0 L585.8,951.6 L588.1,956.2 L590.5,960.8 L592.8,965.4 L595.2,969.9 L597.5,974.3 L599.9,978.4 L602.2,982.2 L604.6,985.7 L606.9,988.8 L609.3,991.8 L611.6,994.6 L614.0,997.2 L616.3,999.7 L618.7,1002.1 L621.0,1004.3 L623.4,1006.4 L625.7,1008.3 L628.1,1010.0 L630.4,1011.6 L632.8,1013.1 L635.1,1014.5 L637.5,1015.7 L639.8,1016.8 L642.2,1017.8" stroke-width="2.2" fill="none" />
<line x1="772.6" y1="654.5" x2="772.6" y2="1096.6" stroke-width="2" />
<line x1="763.7" y1="1095.6" x2="772.6" y2="1095.6" stroke-width="2" />
<line x1="768.0" y1="1080.3" x2="772.6" y2="1080.3" stroke-width="2" />
<line x1="768.0" y1="1065.0" x2="772.6" y2="1065.0" stroke-width="2" />
<line x1="768.0" y1="1049.8" x2="772.6" y2="1049.8" stroke-width="2" />
<line x1="768.0" y1="1034.5" x2="772.6" y2="1034.5" stroke-width="2" />
<line x1="763.7" y1="1019.2" x2="772.6" y2="1019.2" stroke-width="2" />
<line x1="768.0" y1="1003.9" x2="772.6" y2="1003.9" stroke-width="2" />
<line x1="768.0" y1="988.6" x2="772.6" y2="988.6" stroke-width="2" />
<line x1="768.0" y1="973.4" x2="772.6" y2="973.4" stroke-width="2" />
<line x1="768.0" y1="958.1" x2="772.6" y2="958.1" stroke-width="2" />
<line x1="763.7" y1="942.8" x2="772.6" y2="942.8" stroke-width="2" />
<line x1="768.0" y1="927.5" x2="772.6" y2="927.5" stroke-width="2" />
<line x1="768.0" y1="912.2" x2="772.6" y2="912.2" stroke-width="2" />
<line x1="768.0" y1="897.0" x2="772.6" y2="897.0" stroke-width="2" />
<line x1="768.0" y1="881.7" x2="772.6" y2="881.7" stroke-width="2" />
<line x1="763.7" y1="866.4" x2="772.6" y2="866.4" stroke-width="2" />
<line x1="768.0" y1="851.1" x2="772.6" y2="851.1" stroke-width="2" />
<line x1="768.0" y1="835.8" x2="772.6" y2="835.8" stroke-width="2" />
<line x1="768.0" y1="820.6" x2="772.6" y2="820.6" stroke-width="2" />
<line x1="768.0" y1="805.3" x2="772.6" y2="805.3" stroke-width="2" />
<line x1="763.7" y1="790.0" x2="772.6" y2="790.0" stroke-width="2" />
<line x1="768.0" y1="774.7" x2="772.6" y2="774.7" stroke-width="2" />
<line x1="768.0" y1="759.4" x2="772.6" y2="759.4" stroke-width="2" />
<line x1="768.0" y1="744.2" x2="772.6" y2="744.2" stroke-width="2" />
<line x1="768.0" y1="728.9" x2="772.6" y2="728.9" stroke-width="2" />
<line x1="763.7" y1="713.6" x2="772.6" y2="713.6" stroke-width="2" />
<line x1="768.0" y1="698.3" x2="772.6" y2="698.3" stroke-width="2" />
<line x1="768.0" y1="683.0" x2="772.6" y2="683.0" stroke-width="2" />
<line x1="768.0" y1="667.8" x2="772.6" y2="667.8" stroke-width="2" />
<text x="759.5" y="1110.6" font-size="28" text-anchor="end" >0</text>
<text x="759.5" y="1034.2" font-size="28" text-anchor="end" >20</text>
<text x="759.5" y="957.8" font-size="28" text-anchor="end" >40</text>
<text x="759.5" y="881.4" font-size="28" text-anchor="end" >60</text>
<text x="759.5" y="805.0" font-size="28" text-anchor="end" >80</text>
<text x="759.5" y="728.6" font-size="28" text-anchor="end" >100</text>
<line x1="771.6" y1="1096.0" x2="1338.5" y2="1096.0" stroke-width="2" />
<line x1="783.5" y1="1096.0" x2="783.5" y2="1100.5" stroke-width="2" />
<line x1="859.4" y1="1096.0" x2="859.4" y2="1100.5" stroke-width="2" />
<line x1="898.0" y1="1096.0" x2="898.0" y2="1100.5" stroke-width="2" />
<line x1="925.4" y1="1096.0" x2="925.4" y2="1100.5" stroke-width="2" />
<line x1="946.6" y1="1096.0" x2="946.6" y2="1100.5" stroke-width="2" />
<line x1="963.9" y1="1096.0" x2="963.9" y2="1100.5" stroke-width="2" />
<line x1="978.6" y1="1096.0" x2="978.6" y2="1100.5" stroke-width="2" />
<line x1="991.3" y1="1096.0" x2="991.3" y2="1100.5" stroke-width="2" />
<line x1="1002.5" y1="1096.0" x2="1002.5" y2="1100.5" stroke-width="2" />
<line x1="1078.4" y1="1096.0" x2="1078.4" y2="1100.5" stroke-width="2" />
<line x1="1117.0" y1="1096.0" x2="1117.0" y2="1100.5" stroke-width="2" />
<line x1="1144.4" y1="1096.0" x2="1144.4" y2="1100.5" stroke-width="2" />
<line x1="1165.6" y1="1096.0" x2="1165.6" y2="1100.5" stroke-width="2" />
<line x1="1182.9" y1="1096.0" x2="1182.9" y2="1100.5" stroke-width="2" />
<line x1="1197.6" y1="1096.0" x2="1197.6" y2="1100.5" stroke-width="2" />
<line x1="1210.3" y1="1096.0" x2="1210.3" y2="1100.5" stroke-width="2" />
<line x1="1221.5" y1="1096.0" x2="1221.5" y2="1100.5" stroke-width="2" />
<line x1="1297.4" y1="1096.0" x2="1297.4" y2="1100.5" stroke-width="2" />
<line x1="1336.0" y1="1096.0" x2="1336.0" y2="1100.5" stroke-width="2" />
<line x1="793.5" y1="1096.0" x2="793.5" y2="1104.0" stroke-width="2" />
<line x1="1012.5" y1="1096.0" x2="1012.5" y2="1104.0" stroke-width="2" />
<line x1="1231.5" y1="1096.0" x2="1231.5" y2="1104.0" stroke-width="2" />
<text x="795.0" y="1136.4" font-size="28" text-anchor="middle" >1</text>
<text x="1018.5" y="1136.4" font-size="28" text-anchor="middle" >10</text>
<text x="1240.5" y="1136.4" font-size="28" text-anchor="middle" >100</text>
<text x="1346.0" y="1162.2" font-size="26" text-anchor="end" >[GYY4137] (µM)</text>
<text transform="translate(712,911) rotate(-90)" font-size="26" text-anchor="middle">I(GYY4137)/I(control)</text>
<circle cx="1333.8" cy="1029.1" r="6.6" stroke-width="1.4" fill="#fff"/>
<circle cx="793.5" cy="660.5" r="6.6" stroke-width="1.4" fill="#fff"/>
<circle cx="793.5" cy="703.7" r="6.6" stroke-width="1.4" fill="#fff"/>
<circle cx="793.5" cy="707.9" r="6.6" stroke-width="1.4" fill="#fff"/>
<circle cx="793.5" cy="710.2" r="6.6" stroke-width="1.4" fill="#fff"/>
<circle cx="793.5" cy="748.0" r="6.6" stroke-width="1.4" fill="#fff"/>
<circle cx="946.6" cy="699.8" r="6.6" stroke-width="1.4" fill="#fff"/>
<circle cx="946.6" cy="730.0" r="6.6" stroke-width="1.4" fill="#fff"/>
<circle cx="946.6" cy="735.4" r="6.6" stroke-width="1.4" fill="#fff"/>
<circle cx="946.6" cy="743.0" r="6.6" stroke-width="1.4" fill="#fff"/>
<circle cx="1012.5" cy="715.9" r="6.6" stroke-width="1.4" fill="#fff"/>
<circle cx="1012.5" cy="731.2" r="6.6" stroke-width="1.4" fill="#fff"/>
<circle cx="1012.5" cy="752.9" r="6.6" stroke-width="1.4" fill="#fff"/>
<circle cx="1012.5" cy="811.8" r="6.6" stroke-width="1.4" fill="#fff"/>
<circle cx="1165.6" cy="759.1" r="6.6" stroke-width="1.4" fill="#fff"/>
<circle cx="1165.6" cy="761.3" r="6.6" stroke-width="1.4" fill="#fff"/>
<circle cx="1165.6" cy="801.1" r="6.6" stroke-width="1.4" fill="#fff"/>
<circle cx="1165.6" cy="812.2" r="6.6" stroke-width="1.4" fill="#fff"/>
<circle cx="1165.6" cy="823.6" r="6.6" stroke-width="1.4" fill="#fff"/>
<circle cx="1165.6" cy="827.4" r="6.6" stroke-width="1.4" fill="#fff"/>
<circle cx="1165.6" cy="879.8" r="6.6" stroke-width="1.4" fill="#fff"/>
<circle cx="1231.5" cy="818.6" r="6.6" stroke-width="1.4" fill="#fff"/>
<circle cx="1231.5" cy="854.6" r="6.6" stroke-width="1.4" fill="#fff"/>
<circle cx="1231.5" cy="884.7" r="6.6" stroke-width="1.4" fill="#fff"/>
<circle cx="1231.5" cy="897.7" r="6.6" stroke-width="1.4" fill="#fff"/>
<circle cx="1231.5" cy="942.0" r="6.6" stroke-width="1.4" fill="#fff"/>
<circle cx="1231.5" cy="977.2" r="6.6" stroke-width="1.4" fill="#fff"/>
<circle cx="1336.0" cy="1017.3" r="6.6" stroke-width="1.4" fill="#fff"/>
<circle cx="1336.0" cy="1029.1" r="6.6" stroke-width="1.4" fill="#fff"/>
<circle cx="1336.0" cy="1039.4" r="6.6" stroke-width="1.4" fill="#fff"/>
<line x1="793.5" y1="723.1" x2="793.5" y2="687.2" stroke-width="2.2" />
<line x1="789.2" y1="723.1" x2="797.8" y2="723.1" stroke-width="2.2" />
<line x1="789.2" y1="687.2" x2="797.8" y2="687.2" stroke-width="2.2" />
<line x1="946.6" y1="740.0" x2="946.6" y2="719.3" stroke-width="2.2" />
<line x1="942.3" y1="740.0" x2="950.9" y2="740.0" stroke-width="2.2" />
<line x1="942.3" y1="719.3" x2="950.9" y2="719.3" stroke-width="2.2" />
<line x1="1012.5" y1="783.1" x2="1012.5" y2="723.1" stroke-width="2.2" />
<line x1="1008.2" y1="783.1" x2="1016.8" y2="783.1" stroke-width="2.2" />
<line x1="1008.2" y1="723.1" x2="1016.8" y2="723.1" stroke-width="2.2" />
<line x1="1165.6" y1="815.2" x2="1165.6" y2="786.6" stroke-width="2.2" />
<line x1="1161.3" y1="815.2" x2="1169.9" y2="815.2" stroke-width="2.2" />
<line x1="1161.3" y1="786.6" x2="1169.9" y2="786.6" stroke-width="2.2" />
<line x1="1231.5" y1="902.7" x2="1231.5" y2="877.1" stroke-width="2.2" />
<line x1="1227.2" y1="902.7" x2="1235.8" y2="902.7" stroke-width="2.2" />
<line x1="1227.2" y1="877.1" x2="1235.8" y2="877.1" stroke-width="2.2" />
<path d="M793.5,730.8 L795.8,730.8 L798.0,730.8 L800.3,730.8 L802.6,730.9 L804.8,730.9 L807.1,730.9 L809.4,730.9 L811.7,730.9 L813.9,730.9 L816.2,731.0 L818.5,731.0 L820.7,731.0 L823.0,731.0 L825.3,731.1 L827.5,731.1 L829.8,731.1 L832.1,731.1 L834.4,731.2 L836.6,731.2 L838.9,731.2 L841.2,731.2 L843.4,731.3 L845.7,731.3 L848.0,731.3 L850.2,731.4 L852.5,731.4 L854.8,731.4 L857.1,731.5 L859.3,731.5 L861.6,731.5 L863.9,731.6 L866.1,731.6 L868.4,731.6 L870.7,731.7 L872.9,731.7 L875.2,731.7 L877.5,731.8 L879.8,731.8 L882.0,731.9 L884.3,731.9 L886.6,732.0 L888.8,732.0 L891.1,732.1 L893.4,732.1 L895.6,732.2 L897.9,732.2 L900.2,732.3 L902.5,732.3 L904.7,732.4 L907.0,732.4 L909.3,732.5 L911.5,732.6 L913.8,732.6 L916.1,732.7 L918.3,732.8 L920.6,732.8 L922.9,732.9 L925.2,733.0 L927.4,733.0 L929.7,733.1 L932.0,733.2 L934.2,733.3 L936.5,733.3 L938.8,733.4 L941.0,733.5 L943.3,733.6 L945.6,733.7 L947.9,733.8 L950.1,733.9 L952.4,734.0 L954.7,734.1 L956.9,734.2 L959.2,734.3 L961.5,734.4 L963.7,734.5 L966.0,734.6 L968.3,734.7 L970.6,734.8 L972.8,734.9 L975.1,735.0 L977.4,735.1 L979.6,735.3 L981.9,735.4 L984.2,735.5 L986.4,735.6 L988.7,735.7 L991.0,735.8 L993.2,736.0 L995.5,736.1 L997.8,736.2 L1000.1,736.4 L1002.3,736.5 L1004.6,736.7 L1006.9,736.8 L1009.1,737.0 L1011.4,737.1 L1013.7,737.3 L1015.9,737.5 L1018.2,737.7 L1020.5,737.9 L1022.8,738.1 L1025.0,738.4 L1027.3,738.6 L1029.6,738.9 L1031.8,739.1 L1034.1,739.4 L1036.4,739.7 L1038.6,740.0 L1040.9,740.2 L1043.2,740.6 L1045.5,740.9 L1047.7,741.2 L1050.0,741.5 L1052.3,741.8 L1054.5,742.2 L1056.8,742.5 L1059.1,742.9 L1061.3,743.2 L1063.6,743.6 L1065.9,744.0 L1068.2,744.4 L1070.4,744.8 L1072.7,745.2 L1075.0,745.7 L1077.2,746.1 L1079.5,746.6 L1081.8,747.1 L1084.0,747.6 L1086.3,748.1 L1088.6,748.6 L1090.9,749.2 L1093.1,749.7 L1095.4,750.3 L1097.7,750.9 L1099.9,751.5 L1102.2,752.1 L1104.5,752.7 L1106.7,753.4 L1109.0,754.1 L1111.3,754.9 L1113.6,755.6 L1115.8,756.4 L1118.1,757.3 L1120.4,758.1 L1122.6,759.1 L1124.9,760.0 L1127.2,761.1 L1129.4,762.1 L1131.7,763.2 L1134.0,764.4 L1136.3,765.6 L1138.5,766.8 L1140.8,768.1 L1143.1,769.4 L1145.3,770.7 L1147.6,772.1 L1149.9,773.5 L1152.1,775.0 L1154.4,776.5 L1156.7,778.1 L1158.9,779.7 L1161.2,781.4 L1163.5,783.2 L1165.8,785.0 L1168.0,786.9 L1170.3,788.9 L1172.6,790.9 L1174.8,793.0 L1177.1,795.2 L1179.4,797.5 L1181.6,799.8 L1183.9,802.3 L1186.2,804.8 L1188.5,807.5 L1190.7,810.3 L1193.0,813.3 L1195.3,816.3 L1197.5,819.5 L1199.8,822.8 L1202.1,826.2 L1204.3,829.8 L1206.6,833.6 L1208.9,837.6 L1211.2,841.7 L1213.4,846.0 L1215.7,850.4 L1218.0,855.0 L1220.2,859.8 L1222.5,864.8 L1224.8,870.0 L1227.0,875.3 L1229.3,880.5 L1231.6,885.7 L1233.9,890.8 L1236.1,895.8 L1238.4,900.9 L1240.7,906.0 L1242.9,911.2 L1245.2,916.5 L1247.5,921.9 L1249.7,927.6 L1252.0,933.3 L1254.3,939.0 L1256.6,944.6 L1258.8,950.0 L1261.1,955.3 L1263.4,960.5 L1265.6,965.8 L1267.9,970.7 L1270.2,975.3 L1272.4,979.2 L1274.7,982.9 L1277.0,986.4 L1279.3,989.7 L1281.5,992.8 L1283.8,995.7 L1286.1,998.4 L1288.3,1001.0 L1290.6,1003.3 L1292.9,1005.6 L1295.1,1007.7 L1297.4,1009.8 L1299.7,1011.7 L1302.0,1013.4 L1304.2,1015.1 L1306.5,1016.5 L1308.8,1017.8 L1311.0,1019.0 L1313.3,1020.2 L1315.6,1021.3 L1317.8,1022.3 L1320.1,1023.2 L1322.4,1024.0 L1324.7,1024.7 L1326.9,1025.4 L1329.2,1026.1 L1331.5,1026.7 L1333.7,1027.2 L1336.0,1027.6" stroke-width="2.2" fill="none" />
<line x1="114.3" y1="1199.4" x2="114.3" y2="1649.9" stroke-width="2" />
<line x1="104.5" y1="1648.9" x2="114.3" y2="1648.9" stroke-width="2" />
<line x1="109.0" y1="1604.0" x2="114.3" y2="1604.0" stroke-width="2" />
<line x1="104.5" y1="1559.0" x2="114.3" y2="1559.0" stroke-width="2" />
<line x1="109.0" y1="1514.1" x2="114.3" y2="1514.1" stroke-width="2" />
<line x1="104.5" y1="1469.1" x2="114.3" y2="1469.1" stroke-width="2" />
<line x1="109.0" y1="1424.2" x2="114.3" y2="1424.2" stroke-width="2" />
<line x1="104.5" y1="1379.2" x2="114.3" y2="1379.2" stroke-width="2" />
<line x1="109.0" y1="1334.2" x2="114.3" y2="1334.2" stroke-width="2" />
<line x1="104.5" y1="1289.3" x2="114.3" y2="1289.3" stroke-width="2" />
<line x1="109.0" y1="1244.4" x2="114.3" y2="1244.4" stroke-width="2" />
<line x1="104.5" y1="1199.4" x2="114.3" y2="1199.4" stroke-width="2" />
<text x="105.5" y="1574.5" font-size="25" text-anchor="end" >250</text>
<text x="105.5" y="1484.6" font-size="25" text-anchor="end" >500</text>
<text x="105.5" y="1394.7" font-size="25" text-anchor="end" >750</text>
<text x="105.5" y="1304.8" font-size="25" text-anchor="end" >1000</text>
<text x="105.5" y="1214.9" font-size="25" text-anchor="end" >1250</text>
<text x="95.0" y="1660.0" font-size="25" text-anchor="end" >0</text>
<line x1="149.2" y1="1682.7" x2="713.2" y2="1682.7" stroke-width="2" />
<line x1="150.2" y1="1682.7" x2="150.2" y2="1689.0" stroke-width="2" />
<text x="171.4" y="1733" font-size="25.5" text-anchor="end">-<tspan dx="-1.5">80</tspan></text>
<line x1="220.5" y1="1682.7" x2="220.5" y2="1689.0" stroke-width="2" />
<text x="241.4" y="1733" font-size="25.5" text-anchor="end">-<tspan dx="-1.5">60</tspan></text>
<line x1="290.7" y1="1682.7" x2="290.7" y2="1689.0" stroke-width="2" />
<text x="311.2" y="1733" font-size="25.5" text-anchor="end">-<tspan dx="-1.5">40</tspan></text>
<line x1="361.0" y1="1682.7" x2="361.0" y2="1689.0" stroke-width="2" />
<text x="383.0" y="1733" font-size="25.5" text-anchor="end">-<tspan dx="-1.5">20</tspan></text>
<line x1="431.2" y1="1682.7" x2="431.2" y2="1689.0" stroke-width="2" />
<text x="439.6" y="1733.0" font-size="25.5" text-anchor="end" >0</text>
<line x1="501.4" y1="1682.7" x2="501.4" y2="1689.0" stroke-width="2" />
<text x="519.2" y="1733.0" font-size="25.5" text-anchor="end" >20</text>
<line x1="571.7" y1="1682.7" x2="571.7" y2="1689.0" stroke-width="2" />
<text x="589.3" y="1733.0" font-size="25.5" text-anchor="end" >40</text>
<line x1="641.9" y1="1682.7" x2="641.9" y2="1689.0" stroke-width="2" />
<text x="659.0" y="1733.0" font-size="25.5" text-anchor="end" >60</text>
<line x1="712.2" y1="1682.7" x2="712.2" y2="1689.0" stroke-width="2" />
<text x="728.3" y="1733.0" font-size="25.5" text-anchor="end" >80</text>
<text x="621.5" y="1773.9" font-size="26" text-anchor="start" >V (mV)</text>
<text transform="translate(39,1431.3) rotate(-90)" font-size="26" text-anchor="middle">pA/pF</text>
<circle cx="149.7" cy="1642.4" r="5.7" stroke-width="1.5" fill="#000"/>
<circle cx="184.8" cy="1634.5" r="5.7" stroke-width="1.5" fill="#000"/>
<circle cx="184.8" cy="1645.3" r="5.7" stroke-width="1.5" fill="#000"/>
<circle cx="219.9" cy="1643.9" r="5.7" stroke-width="1.5" fill="#000"/>
<circle cx="255.0" cy="1621.6" r="5.7" stroke-width="1.5" fill="#000"/>
<circle cx="290.1" cy="1621.9" r="5.7" stroke-width="1.5" fill="#000"/>
<circle cx="290.1" cy="1628.0" r="5.7" stroke-width="1.5" fill="#000"/>
<circle cx="290.1" cy="1638.1" r="5.7" stroke-width="1.5" fill="#000"/>
<circle cx="325.2" cy="1616.2" r="5.7" stroke-width="1.5" fill="#000"/>
<circle cx="325.2" cy="1620.1" r="5.7" stroke-width="1.5" fill="#000"/>
<circle cx="325.2" cy="1630.2" r="5.7" stroke-width="1.5" fill="#000"/>
<circle cx="325.2" cy="1636.3" r="5.7" stroke-width="1.5" fill="#000"/>
<circle cx="360.3" cy="1607.5" r="5.7" stroke-width="1.5" fill="#000"/>
<circle cx="360.3" cy="1611.1" r="5.7" stroke-width="1.5" fill="#000"/>
<circle cx="395.4" cy="1580.2" r="5.7" stroke-width="1.5" fill="#000"/>
<circle cx="395.4" cy="1582.4" r="5.7" stroke-width="1.5" fill="#000"/>
<circle cx="395.4" cy="1626.6" r="5.7" stroke-width="1.5" fill="#000"/>
<circle cx="395.4" cy="1640.6" r="5.7" stroke-width="1.5" fill="#000"/>
<circle cx="430.5" cy="1582.4" r="5.7" stroke-width="1.5" fill="#000"/>
<circle cx="430.5" cy="1612.6" r="5.7" stroke-width="1.5" fill="#000"/>
<circle cx="430.5" cy="1620.1" r="5.7" stroke-width="1.5" fill="#000"/>
<circle cx="430.5" cy="1634.9" r="5.7" stroke-width="1.5" fill="#000"/>
<circle cx="430.5" cy="1627.3" r="5.7" stroke-width="1.5" fill="#000"/>
<circle cx="465.6" cy="1526.6" r="5.7" stroke-width="1.5" fill="#000"/>
<circle cx="465.6" cy="1591.4" r="5.7" stroke-width="1.5" fill="#000"/>
<circle cx="465.6" cy="1598.6" r="5.7" stroke-width="1.5" fill="#000"/>
<circle cx="465.6" cy="1605.7" r="5.7" stroke-width="1.5" fill="#000"/>
<circle cx="465.6" cy="1612.9" r="5.7" stroke-width="1.5" fill="#000"/>
<circle cx="465.6" cy="1628.8" r="5.7" stroke-width="1.5" fill="#000"/>
<circle cx="500.7" cy="1477.4" r="5.7" stroke-width="1.5" fill="#000"/>
<circle cx="500.7" cy="1498.6" r="5.7" stroke-width="1.5" fill="#000"/>
<circle cx="500.7" cy="1526.6" r="5.7" stroke-width="1.5" fill="#000"/>
<circle cx="500.7" cy="1577.0" r="5.7" stroke-width="1.5" fill="#000"/>
<circle cx="500.7" cy="1582.4" r="5.7" stroke-width="1.5" fill="#000"/>
<circle cx="500.7" cy="1587.8" r="5.7" stroke-width="1.5" fill="#000"/>
<circle cx="500.7" cy="1595.0" r="5.7" stroke-width="1.5" fill="#000"/>
<circle cx="500.7" cy="1602.2" r="5.7" stroke-width="1.5" fill="#000"/>
<circle cx="500.7" cy="1623.0" r="5.7" stroke-width="1.5" fill="#000"/>
<circle cx="535.8" cy="1475.6" r="5.7" stroke-width="1.5" fill="#000"/>
<circle cx="535.8" cy="1493.2" r="5.7" stroke-width="1.5" fill="#000"/>
<circle cx="535.8" cy="1563.3" r="5.7" stroke-width="1.5" fill="#000"/>
<circle cx="535.8" cy="1571.6" r="5.7" stroke-width="1.5" fill="#000"/>
<circle cx="535.8" cy="1578.8" r="5.7" stroke-width="1.5" fill="#000"/>
<circle cx="535.8" cy="1587.8" r="5.7" stroke-width="1.5" fill="#000"/>
<circle cx="535.8" cy="1595.0" r="5.7" stroke-width="1.5" fill="#000"/>
<circle cx="535.8" cy="1609.0" r="5.7" stroke-width="1.5" fill="#000"/>
<circle cx="535.8" cy="1617.3" r="5.7" stroke-width="1.5" fill="#000"/>
<circle cx="570.9" cy="1446.8" r="5.7" stroke-width="1.5" fill="#000"/>
<circle cx="570.9" cy="1466.2" r="5.7" stroke-width="1.5" fill="#000"/>
<circle cx="570.9" cy="1553.6" r="5.7" stroke-width="1.5" fill="#000"/>
<circle cx="570.9" cy="1565.1" r="5.7" stroke-width="1.5" fill="#000"/>
<circle cx="570.9" cy="1576.6" r="5.7" stroke-width="1.5" fill="#000"/>
<circle cx="570.9" cy="1609.0" r="5.7" stroke-width="1.5" fill="#000"/>
<circle cx="606.0" cy="1421.6" r="5.7" stroke-width="1.5" fill="#000"/>
<circle cx="606.0" cy="1545.7" r="5.7" stroke-width="1.5" fill="#000"/>
<circle cx="606.0" cy="1555.4" r="5.7" stroke-width="1.5" fill="#000"/>
<circle cx="606.0" cy="1566.6" r="5.7" stroke-width="1.5" fill="#000"/>
<circle cx="606.0" cy="1605.7" r="5.7" stroke-width="1.5" fill="#000"/>
<circle cx="641.1" cy="1393.9" r="5.7" stroke-width="1.5" fill="#000"/>
<circle cx="641.1" cy="1455.1" r="5.7" stroke-width="1.5" fill="#000"/>
<circle cx="641.1" cy="1534.2" r="5.7" stroke-width="1.5" fill="#000"/>
<circle cx="641.1" cy="1543.9" r="5.7" stroke-width="1.5" fill="#000"/>
<circle cx="641.1" cy="1556.1" r="5.7" stroke-width="1.5" fill="#000"/>
<circle cx="641.1" cy="1579.9" r="5.7" stroke-width="1.5" fill="#000"/>
<circle cx="641.1" cy="1599.3" r="5.7" stroke-width="1.5" fill="#000"/>
<circle cx="641.1" cy="1610.1" r="5.7" stroke-width="1.5" fill="#000"/>
<circle cx="676.2" cy="1370.2" r="5.7" stroke-width="1.5" fill="#000"/>
<circle cx="676.2" cy="1420.2" r="5.7" stroke-width="1.5" fill="#000"/>
<circle cx="676.2" cy="1524.5" r="5.7" stroke-width="1.5" fill="#000"/>
<circle cx="676.2" cy="1534.2" r="5.7" stroke-width="1.5" fill="#000"/>
<circle cx="676.2" cy="1542.1" r="5.7" stroke-width="1.5" fill="#000"/>
<circle cx="676.2" cy="1586.3" r="5.7" stroke-width="1.5" fill="#000"/>
<circle cx="676.2" cy="1593.5" r="5.7" stroke-width="1.5" fill="#000"/>
<circle cx="676.2" cy="1614.0" r="5.7" stroke-width="1.5" fill="#000"/>
<circle cx="711.3" cy="1345.8" r="5.7" stroke-width="1.5" fill="#000"/>
<circle cx="711.3" cy="1455.1" r="5.7" stroke-width="1.5" fill="#000"/>
<circle cx="711.3" cy="1517.6" r="5.7" stroke-width="1.5" fill="#000"/>
<circle cx="711.3" cy="1525.9" r="5.7" stroke-width="1.5" fill="#000"/>
<circle cx="711.3" cy="1532.4" r="5.7" stroke-width="1.5" fill="#000"/>
<circle cx="711.3" cy="1586.3" r="5.7" stroke-width="1.5" fill="#000"/>
<circle cx="711.3" cy="1591.7" r="5.7" stroke-width="1.5" fill="#000"/>
<circle cx="711.3" cy="1617.3" r="5.7" stroke-width="1.5" fill="#000"/>
<circle cx="149.7" cy="1648.9" r="5.7" stroke-width="1.5" fill="#fff"/>
<circle cx="149.7" cy="1636.0" r="5.7" stroke-width="1.5" fill="#fff"/>
<circle cx="184.8" cy="1648.9" r="5.7" stroke-width="1.5" fill="#fff"/>
<circle cx="184.8" cy="1639.9" r="5.7" stroke-width="1.5" fill="#fff"/>
<circle cx="219.9" cy="1648.9" r="5.7" stroke-width="1.5" fill="#fff"/>
<circle cx="219.9" cy="1636.0" r="5.7" stroke-width="1.5" fill="#fff"/>
<circle cx="255.0" cy="1648.9" r="5.7" stroke-width="1.5" fill="#fff"/>
<circle cx="255.0" cy="1639.9" r="5.7" stroke-width="1.5" fill="#fff"/>
<circle cx="290.1" cy="1648.9" r="5.7" stroke-width="1.5" fill="#fff"/>
<circle cx="290.1" cy="1641.7" r="5.7" stroke-width="1.5" fill="#fff"/>
<circle cx="325.2" cy="1648.2" r="5.7" stroke-width="1.5" fill="#fff"/>
<circle cx="325.2" cy="1641.0" r="5.7" stroke-width="1.5" fill="#fff"/>
<circle cx="360.3" cy="1644.4" r="5.7" stroke-width="1.5" fill="#fff"/>
<circle cx="360.3" cy="1634.9" r="5.7" stroke-width="1.5" fill="#fff"/>
<circle cx="360.3" cy="1628.8" r="5.7" stroke-width="1.5" fill="#fff"/>
<circle cx="360.3" cy="1625.2" r="5.7" stroke-width="1.5" fill="#fff"/>
<circle cx="360.3" cy="1616.9" r="5.7" stroke-width="1.5" fill="#fff"/>
<circle cx="395.4" cy="1637.0" r="5.7" stroke-width="1.5" fill="#fff"/>
<circle cx="395.4" cy="1619.4" r="5.7" stroke-width="1.5" fill="#fff"/>
<circle cx="395.4" cy="1611.1" r="5.7" stroke-width="1.5" fill="#fff"/>
<circle cx="395.4" cy="1601.4" r="5.7" stroke-width="1.5" fill="#fff"/>
<circle cx="395.4" cy="1594.2" r="5.7" stroke-width="1.5" fill="#fff"/>
<circle cx="395.4" cy="1587.8" r="5.7" stroke-width="1.5" fill="#fff"/>
<circle cx="430.5" cy="1629.5" r="5.7" stroke-width="1.5" fill="#fff"/>
<circle cx="430.5" cy="1602.2" r="5.7" stroke-width="1.5" fill="#fff"/>
<circle cx="430.5" cy="1592.4" r="5.7" stroke-width="1.5" fill="#fff"/>
<circle cx="430.5" cy="1564.4" r="5.7" stroke-width="1.5" fill="#fff"/>
<circle cx="430.5" cy="1551.1" r="5.7" stroke-width="1.5" fill="#fff"/>
<circle cx="465.6" cy="1620.1" r="5.7" stroke-width="1.5" fill="#fff"/>
<circle cx="465.6" cy="1582.4" r="5.7" stroke-width="1.5" fill="#fff"/>
<circle cx="465.6" cy="1572.7" r="5.7" stroke-width="1.5" fill="#fff"/>
<circle cx="465.6" cy="1561.5" r="5.7" stroke-width="1.5" fill="#fff"/>
<circle cx="465.6" cy="1534.2" r="5.7" stroke-width="1.5" fill="#fff"/>
<circle cx="465.6" cy="1522.3" r="5.7" stroke-width="1.5" fill="#fff"/>
<circle cx="465.6" cy="1516.2" r="5.7" stroke-width="1.5" fill="#fff"/>
<circle cx="500.7" cy="1610.4" r="5.7" stroke-width="1.5" fill="#fff"/>
<circle cx="500.7" cy="1569.4" r="5.7" stroke-width="1.5" fill="#fff"/>
<circle cx="500.7" cy="1563.0" r="5.7" stroke-width="1.5" fill="#fff"/>
<circle cx="500.7" cy="1554.7" r="5.7" stroke-width="1.5" fill="#fff"/>
<circle cx="500.7" cy="1542.8" r="5.7" stroke-width="1.5" fill="#fff"/>
<circle cx="500.7" cy="1537.1" r="5.7" stroke-width="1.5" fill="#fff"/>
<circle cx="500.7" cy="1502.5" r="5.7" stroke-width="1.5" fill="#fff"/>
<circle cx="500.7" cy="1481.3" r="5.7" stroke-width="1.5" fill="#fff"/>
<circle cx="535.8" cy="1599.3" r="5.7" stroke-width="1.5" fill="#fff"/>
<circle cx="535.8" cy="1544.6" r="5.7" stroke-width="1.5" fill="#fff"/>
<circle cx="535.8" cy="1541.0" r="5.7" stroke-width="1.5" fill="#fff"/>
<circle cx="535.8" cy="1537.4" r="5.7" stroke-width="1.5" fill="#fff"/>
<circle cx="535.8" cy="1517.6" r="5.7" stroke-width="1.5" fill="#fff"/>
<circle cx="535.8" cy="1513.0" r="5.7" stroke-width="1.5" fill="#fff"/>
<circle cx="535.8" cy="1472.3" r="5.7" stroke-width="1.5" fill="#fff"/>
<circle cx="535.8" cy="1440.3" r="5.7" stroke-width="1.5" fill="#fff"/>
<circle cx="570.9" cy="1590.3" r="5.7" stroke-width="1.5" fill="#fff"/>
<circle cx="570.9" cy="1531.0" r="5.7" stroke-width="1.5" fill="#fff"/>
<circle cx="570.9" cy="1524.5" r="5.7" stroke-width="1.5" fill="#fff"/>
<circle cx="570.9" cy="1517.6" r="5.7" stroke-width="1.5" fill="#fff"/>
<circle cx="570.9" cy="1491.8" r="5.7" stroke-width="1.5" fill="#fff"/>
<circle cx="570.9" cy="1433.1" r="5.7" stroke-width="1.5" fill="#fff"/>
<circle cx="570.9" cy="1408.0" r="5.7" stroke-width="1.5" fill="#fff"/>
<circle cx="570.9" cy="1399.7" r="5.7" stroke-width="1.5" fill="#fff"/>
<circle cx="606.0" cy="1581.3" r="5.7" stroke-width="1.5" fill="#fff"/>
<circle cx="606.0" cy="1516.2" r="5.7" stroke-width="1.5" fill="#fff"/>
<circle cx="606.0" cy="1504.7" r="5.7" stroke-width="1.5" fill="#fff"/>
<circle cx="606.0" cy="1498.2" r="5.7" stroke-width="1.5" fill="#fff"/>
<circle cx="606.0" cy="1468.0" r="5.7" stroke-width="1.5" fill="#fff"/>
<circle cx="606.0" cy="1391.4" r="5.7" stroke-width="1.5" fill="#fff"/>
<circle cx="606.0" cy="1363.7" r="5.7" stroke-width="1.5" fill="#fff"/>
<circle cx="606.0" cy="1357.3" r="5.7" stroke-width="1.5" fill="#fff"/>
<circle cx="641.1" cy="1572.3" r="5.7" stroke-width="1.5" fill="#fff"/>
<circle cx="641.1" cy="1500.0" r="5.7" stroke-width="1.5" fill="#fff"/>
<circle cx="641.1" cy="1486.7" r="5.7" stroke-width="1.5" fill="#fff"/>
<circle cx="641.1" cy="1480.2" r="5.7" stroke-width="1.5" fill="#fff"/>
<circle cx="641.1" cy="1446.8" r="5.7" stroke-width="1.5" fill="#fff"/>
<circle cx="641.1" cy="1441.8" r="5.7" stroke-width="1.5" fill="#fff"/>
<circle cx="641.1" cy="1356.5" r="5.7" stroke-width="1.5" fill="#fff"/>
<circle cx="641.1" cy="1320.6" r="5.7" stroke-width="1.5" fill="#fff"/>
<circle cx="641.1" cy="1316.6" r="5.7" stroke-width="1.5" fill="#fff"/>
<circle cx="676.2" cy="1562.6" r="5.7" stroke-width="1.5" fill="#fff"/>
<circle cx="676.2" cy="1483.5" r="5.7" stroke-width="1.5" fill="#fff"/>
<circle cx="676.2" cy="1469.1" r="5.7" stroke-width="1.5" fill="#fff"/>
<circle cx="676.2" cy="1462.3" r="5.7" stroke-width="1.5" fill="#fff"/>
<circle cx="676.2" cy="1425.6" r="5.7" stroke-width="1.5" fill="#fff"/>
<circle cx="676.2" cy="1411.2" r="5.7" stroke-width="1.5" fill="#fff"/>
<circle cx="676.2" cy="1322.4" r="5.7" stroke-width="1.5" fill="#fff"/>
<circle cx="676.2" cy="1282.5" r="5.7" stroke-width="1.5" fill="#fff"/>
<circle cx="676.2" cy="1276.7" r="5.7" stroke-width="1.5" fill="#fff"/>
<circle cx="711.3" cy="1554.7" r="5.7" stroke-width="1.5" fill="#fff"/>
<circle cx="711.3" cy="1469.1" r="5.7" stroke-width="1.5" fill="#fff"/>
<circle cx="711.3" cy="1464.1" r="5.7" stroke-width="1.5" fill="#fff"/>
<circle cx="711.3" cy="1437.8" r="5.7" stroke-width="1.5" fill="#fff"/>
<circle cx="711.3" cy="1436.0" r="5.7" stroke-width="1.5" fill="#fff"/>
<circle cx="711.3" cy="1408.0" r="5.7" stroke-width="1.5" fill="#fff"/>
<circle cx="711.3" cy="1393.2" r="5.7" stroke-width="1.5" fill="#fff"/>
<circle cx="711.3" cy="1310.2" r="5.7" stroke-width="1.5" fill="#fff"/>
<circle cx="711.3" cy="1259.5" r="5.7" stroke-width="1.5" fill="#fff"/>
<circle cx="711.3" cy="1236.1" r="5.7" stroke-width="1.5" fill="#fff"/>
<path d="M149.7,1648.9 L184.8,1648.9 L219.9,1648.9 L255.0,1648.9 L290.1,1648.9 L325.2,1647.5 L360.3,1635.2 L395.4,1614.7 L430.5,1590.3 L465.6,1564.4 L500.7,1541.4 L535.8,1513.0 L570.9,1491.8 L606.0,1468.0 L641.1,1441.8 L676.2,1411.2 L711.3,1393.2" stroke-width="1.8" fill="none" />
<path d="M149.7,1648.9 L184.8,1648.9 L219.9,1648.0 L255.0,1645.0 L290.1,1642.0 L325.2,1636.0 L360.3,1628.0 L395.4,1614.7 L430.5,1600.7 L465.6,1586.0 L500.7,1577.0 L535.8,1565.1 L570.9,1553.6 L606.0,1545.3 L641.1,1534.9 L676.2,1525.2 L711.3,1522.0" stroke-width="1.8" fill="none" />
<line x1="430.5" y1="1583.9" x2="430.5" y2="1580.2" stroke-width="2.2" />
<line x1="423.5" y1="1580.2" x2="437.5" y2="1580.2" stroke-width="2.4" />
<line x1="465.6" y1="1558.0" x2="465.6" y2="1552.2" stroke-width="2.2" />
<line x1="458.6" y1="1552.2" x2="472.6" y2="1552.2" stroke-width="2.4" />
<line x1="500.7" y1="1535.0" x2="500.7" y2="1530.2" stroke-width="2.2" />
<line x1="493.7" y1="1530.2" x2="507.7" y2="1530.2" stroke-width="2.4" />
<line x1="535.8" y1="1506.6" x2="535.8" y2="1496.4" stroke-width="2.2" />
<line x1="528.8" y1="1496.4" x2="542.8" y2="1496.4" stroke-width="2.4" />
<line x1="570.9" y1="1485.4" x2="570.9" y2="1470.5" stroke-width="2.2" />
<line x1="563.9" y1="1470.5" x2="577.9" y2="1470.5" stroke-width="2.4" />
<line x1="606.0" y1="1461.6" x2="606.0" y2="1440.3" stroke-width="2.2" />
<line x1="599.0" y1="1440.3" x2="613.0" y2="1440.3" stroke-width="2.4" />
<line x1="641.1" y1="1435.4" x2="641.1" y2="1411.2" stroke-width="2.2" />
<line x1="634.1" y1="1411.2" x2="648.1" y2="1411.2" stroke-width="2.4" />
<line x1="676.2" y1="1404.8" x2="676.2" y2="1372.0" stroke-width="2.2" />
<line x1="669.2" y1="1372.0" x2="683.2" y2="1372.0" stroke-width="2.4" />
<line x1="711.3" y1="1386.8" x2="711.3" y2="1352.2" stroke-width="2.2" />
<line x1="704.3" y1="1352.2" x2="718.3" y2="1352.2" stroke-width="2.4" />
<line x1="535.8" y1="1558.7" x2="535.8" y2="1546.4" stroke-width="2.2" />
<line x1="528.8" y1="1546.4" x2="542.8" y2="1546.4" stroke-width="2.4" />
<line x1="570.9" y1="1547.2" x2="570.9" y2="1536.7" stroke-width="2.2" />
<line x1="563.9" y1="1536.7" x2="577.9" y2="1536.7" stroke-width="2.4" />
<line x1="606.0" y1="1538.9" x2="606.0" y2="1524.5" stroke-width="2.2" />
<line x1="599.0" y1="1524.5" x2="613.0" y2="1524.5" stroke-width="2.4" />
<line x1="641.1" y1="1528.5" x2="641.1" y2="1513.0" stroke-width="2.2" />
<line x1="634.1" y1="1513.0" x2="648.1" y2="1513.0" stroke-width="2.4" />
<line x1="676.2" y1="1518.8" x2="676.2" y2="1497.5" stroke-width="2.2" />
<line x1="669.2" y1="1497.5" x2="683.2" y2="1497.5" stroke-width="2.4" />
<line x1="711.3" y1="1515.6" x2="711.3" y2="1494.3" stroke-width="2.2" />
<line x1="704.3" y1="1494.3" x2="718.3" y2="1494.3" stroke-width="2.4" />
<text x="535.8" y="1548.0" font-size="25" text-anchor="middle" >*</text>
<text x="570.9" y="1541.0" font-size="25" text-anchor="middle" >*</text>
<text x="606.0" y="1527.0" font-size="25" text-anchor="middle" >*</text>
<text x="641.1" y="1519.0" font-size="25" text-anchor="middle" >*</text>
<text x="676.2" y="1504.3" font-size="25" text-anchor="middle" >*</text>
<text x="711.3" y="1497.8" font-size="25" text-anchor="middle" >*</text>
<path d="M969,1359.0 C972.1,1368.8 974.4,1372.0 983.4,1372.0 L1169,1375.6 M969,1374.0 C972.1,1383.0 974.4,1386.0 983.4,1386.0 L1169,1387.4 M969,1387.0 C972.1,1395.2 974.4,1398.0 983.4,1398.0 L1169,1398.4 M969,1400.6 C972.1,1408.8 974.4,1411.6 983.4,1411.6 L1169,1412.4 M969,1413.0 C972.1,1421.2 974.4,1424.0 983.4,1424.0 L1169,1424.4 M969,1426.6 C972.1,1434.1 974.4,1436.6 983.4,1436.6 L1169,1437 M969,1442.0 C972.1,1448.0 974.4,1450.0 983.4,1450.0 L1169,1450 M969,1457.6 C972.1,1462.1 974.4,1463.6 983.4,1463.6 L1169,1464 M969,1472.0 C972.1,1475.0 974.4,1476.0 983.4,1476.0 L1169,1476 M969,1486.0 C972.1,1487.5 974.4,1488.0 983.4,1488.0 L1169,1487.6 M969,1506 C970.5,1501.6 973.5,1499.6 987.0,1499.6 L1169,1498.6 " stroke-width="2.2" fill="none" />
<path d="M964,1506 L1203,1506" stroke-width="2.4" fill="none" />
<path d="M969,1506 L969,1359" stroke-width="2.2" fill="none" />
<path d="M1169,1374.1 L1169,1511" stroke-width="2.2" fill="none" />
<path d="M969.4,1552.4 C972.5,1559.6 974.8,1562.0 983.8,1562.0 L1169.6,1572 M969.4,1562.0 C972.5,1568.0 974.8,1570.0 983.8,1570.0 L1169.6,1577 M969.4,1571.0 C972.5,1576.2 974.8,1578.0 983.8,1578.0 L1169.6,1584.4 M969.4,1581.0 C972.5,1586.2 974.8,1588.0 983.8,1588.0 L1169.6,1591.6 M969.4,1590.0 C972.5,1594.5 974.8,1596.0 983.8,1596.0 L1169.6,1599 M969.4,1599.0 C972.5,1602.8 974.8,1604.0 983.8,1604.0 L1169.6,1606 M969.4,1608.0 C972.5,1611.0 974.8,1612.0 983.8,1612.0 L1169.6,1612.4 M969.4,1616.0 C972.5,1618.2 974.8,1619.0 983.8,1619.0 L1169.6,1619.6 M969.4,1624.4 C972.5,1625.9 974.8,1626.4 983.8,1626.4 L1169.6,1626.4 M969.4,1632.5 C972.5,1633.6 974.8,1634.0 983.8,1634.0 L1169.6,1633.6 M969.4,1648.4 C970.9,1642.0 973.9,1640.0 987.4,1640.0 L1169.6,1640 M969.4,1648.4 C970.9,1646.4 973.9,1644.4 987.4,1644.4 L1169.6,1644 " stroke-width="2.2" fill="none" />
<path d="M964.4,1648.4 L1204,1648.4" stroke-width="2.4" fill="none" />
<path d="M969.4,1648.4 L969.4,1552.4" stroke-width="2.2" fill="none" />
<path d="M1169.6,1570.5 L1169.6,1653.4" stroke-width="2.2" fill="none" />
<path d="M889.5,1687.3 L889.5,1724.4" stroke-width="2.4" fill="none" />
<path d="M897.2,1732.4 L978,1732.4" stroke-width="2.4" fill="none" />
</g>
</svg>
</body></html>
